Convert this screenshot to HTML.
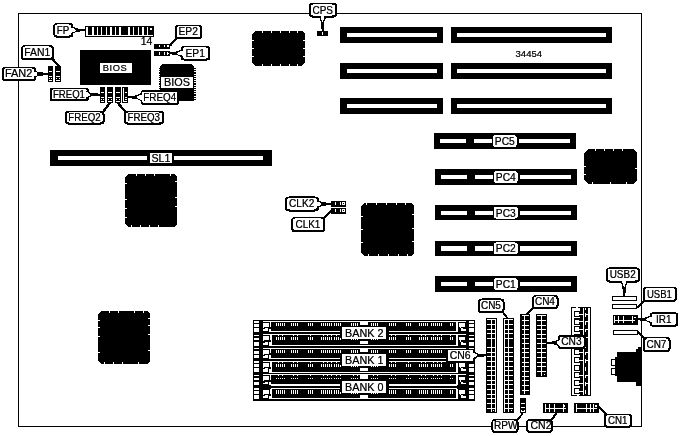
<!DOCTYPE html>
<html><head><meta charset="utf-8"><title>34454 motherboard layout</title>
<style>
html,body{margin:0;padding:0;background:#fff;}
svg{display:block;font-family:"Liberation Sans",sans-serif;fill:#000;}

svg rect,svg line,svg polygon{shape-rendering:crispEdges;}
svg .aa{shape-rendering:geometricPrecision;}
</style></head><body>
<svg width="681" height="436" viewBox="0 0 681 436">
<defs><filter id="bw" x="0" y="0" width="681" height="436" filterUnits="userSpaceOnUse" color-interpolation-filters="sRGB"><feComponentTransfer><feFuncR type="discrete" tableValues="0 1"/><feFuncG type="discrete" tableValues="0 1"/><feFuncB type="discrete" tableValues="0 1"/></feComponentTransfer></filter><filter id="tx" x="0" y="0" width="681" height="436" filterUnits="userSpaceOnUse" color-interpolation-filters="sRGB"><feComponentTransfer><feFuncA type="gamma" amplitude="1" exponent="0.6" offset="0"/></feComponentTransfer></filter></defs>
<g filter="url(#bw)">
<rect x="0" y="0" width="681" height="436" fill="#fff"/>
<rect x="18.5" y="13.5" width="623" height="413" fill="none" stroke="#000" stroke-width="1"/>
<rect x="85" y="26" width="69" height="11" fill="#000" />
<rect x="86" y="27" width="67" height="9" fill="#fff" />
<rect x="88" y="27" width="4.3" height="7.6" fill="#000" />
<rect x="93.5" y="27" width="3.5" height="7.6" fill="#000" />
<rect x="98.2" y="27" width="3.1" height="7.6" fill="#000" />
<rect x="102.4" y="27" width="3.5" height="7.6" fill="#000" />
<rect x="107" y="27" width="3.3" height="7.6" fill="#000" />
<rect x="111.5" y="27" width="3.3" height="7.6" fill="#000" />
<rect x="115.9" y="27" width="3.5" height="7.6" fill="#000" />
<rect x="120.9" y="27" width="7.5" height="7.6" fill="#000" />
<rect x="130" y="27" width="3" height="7.6" fill="#000" />
<rect x="134.3" y="27" width="3.3" height="7.6" fill="#000" />
<rect x="138.8" y="27" width="3.2" height="7.6" fill="#000" />
<rect x="143.5" y="27" width="3.5" height="7.6" fill="#000" />
<rect x="148.4" y="27" width="4.6" height="7.6" fill="#000" />
<rect x="150.2" y="28.2" width="1.5" height="1.6" fill="#fff" />
<rect x="154" y="43.5" width="16" height="5" fill="#000" />
<rect x="158.8" y="44.8" width="1" height="2.4" fill="#fff" />
<rect x="163.5" y="44.8" width="1.4" height="2.4" fill="#fff" />
<rect x="166.6" y="44.8" width="1" height="2.4" fill="#fff" />
<rect x="168.3" y="45.3" width="0.9" height="1.4" fill="#fff" />
<rect x="154" y="51" width="16" height="5" fill="#000" />
<rect x="158.8" y="52.3" width="1" height="2.4" fill="#fff" />
<rect x="163.5" y="52.3" width="1.4" height="2.4" fill="#fff" />
<rect x="166.6" y="52.3" width="1" height="2.4" fill="#fff" />
<rect x="168.3" y="52.8" width="0.9" height="1.4" fill="#fff" />
<rect x="48" y="66" width="5" height="16" fill="#000" />
<rect x="49" y="71.2" width="3" height="1" fill="#fff" />
<rect x="49" y="76" width="3" height="1" fill="#fff" />
<rect x="49" y="77.9" width="3" height="0.8" fill="#fff" />
<rect x="49" y="80" width="3" height="1" fill="#fff" />
<rect x="50" y="77.9" width="1" height="0.8" fill="#000" />
<rect x="55" y="66" width="6" height="16" fill="#000" />
<rect x="56" y="71.2" width="4" height="1" fill="#fff" />
<rect x="56" y="76" width="4" height="1" fill="#fff" />
<rect x="56" y="77.9" width="4" height="0.8" fill="#fff" />
<rect x="56" y="80" width="4" height="1" fill="#fff" />
<rect x="57" y="77.9" width="2" height="0.8" fill="#000" />
<rect x="80" y="50" width="71" height="35" fill="#000" />
<rect x="100" y="62.5" width="32" height="10.2" fill="#fff" />
<polygon points="162,64 192,64 194.2,67 194.2,101 160,101 160,67" fill="#000" stroke="none" stroke-width="1" />
<rect x="194" y="68" width="2" height="1.1" fill="#000" />
<rect x="158.9" y="68" width="1.1" height="1.1" fill="#000" />
<rect x="194" y="70.2" width="2" height="1.1" fill="#000" />
<rect x="158.9" y="70.2" width="1.1" height="1.1" fill="#000" />
<rect x="194" y="72.4" width="2" height="1.1" fill="#000" />
<rect x="158.9" y="72.4" width="1.1" height="1.1" fill="#000" />
<rect x="194" y="74.6" width="2" height="1.1" fill="#000" />
<rect x="158.9" y="74.6" width="1.1" height="1.1" fill="#000" />
<rect x="194" y="76.8" width="2" height="1.1" fill="#000" />
<rect x="158.9" y="76.8" width="1.1" height="1.1" fill="#000" />
<rect x="194" y="79" width="2" height="1.1" fill="#000" />
<rect x="158.9" y="79" width="1.1" height="1.1" fill="#000" />
<rect x="194" y="81.2" width="2" height="1.1" fill="#000" />
<rect x="158.9" y="81.2" width="1.1" height="1.1" fill="#000" />
<rect x="194" y="83.4" width="2" height="1.1" fill="#000" />
<rect x="158.9" y="83.4" width="1.1" height="1.1" fill="#000" />
<rect x="194" y="85.6" width="2" height="1.1" fill="#000" />
<rect x="158.9" y="85.6" width="1.1" height="1.1" fill="#000" />
<rect x="194" y="87.8" width="2" height="1.1" fill="#000" />
<rect x="158.9" y="87.8" width="1.1" height="1.1" fill="#000" />
<rect x="194" y="90" width="2" height="1.1" fill="#000" />
<rect x="158.9" y="90" width="1.1" height="1.1" fill="#000" />
<rect x="194" y="92.2" width="2" height="1.1" fill="#000" />
<rect x="158.9" y="92.2" width="1.1" height="1.1" fill="#000" />
<rect x="194" y="94.4" width="2" height="1.1" fill="#000" />
<rect x="158.9" y="94.4" width="1.1" height="1.1" fill="#000" />
<rect x="194" y="96.6" width="2" height="1.1" fill="#000" />
<rect x="158.9" y="96.6" width="1.1" height="1.1" fill="#000" />
<rect x="194" y="98.8" width="2" height="1.1" fill="#000" />
<rect x="158.9" y="98.8" width="1.1" height="1.1" fill="#000" />
<rect x="161" y="77" width="32" height="10.6" fill="#fff" />
<rect x="100" y="87" width="5" height="16" fill="#000" />
<rect x="101" y="92" width="3" height="1" fill="#fff" />
<rect x="101" y="96.8" width="3" height="1" fill="#fff" />
<rect x="101" y="98.8" width="3" height="1.1" fill="#fff" />
<rect x="102.2" y="98.8" width="0.6" height="1.1" fill="#000" />
<rect x="101" y="101" width="3" height="1" fill="#fff" />
<rect x="107" y="87" width="5.7" height="16" fill="#000" />
<rect x="108" y="92" width="3.7" height="1" fill="#fff" />
<rect x="108" y="96.8" width="3.7" height="1" fill="#fff" />
<rect x="108" y="98.8" width="3.7" height="1.1" fill="#fff" />
<rect x="109.2" y="98.8" width="1.3" height="1.1" fill="#000" />
<rect x="108" y="101" width="3.7" height="1" fill="#fff" />
<rect x="115" y="87" width="5.8" height="16" fill="#000" />
<rect x="116" y="92" width="3.8" height="1" fill="#fff" />
<rect x="116" y="96.8" width="3.8" height="1" fill="#fff" />
<rect x="116" y="98.8" width="3.8" height="1.1" fill="#fff" />
<rect x="117.2" y="98.8" width="1.4" height="1.1" fill="#000" />
<rect x="116" y="101" width="3.8" height="1" fill="#fff" />
<rect x="122.2" y="87" width="5.8" height="16" fill="#000" />
<rect x="123.2" y="88" width="1" height="13.8" fill="#fff" />
<rect x="123.2" y="101" width="3.8" height="1" fill="#fff" />
<rect x="125.2" y="92" width="1.8" height="1" fill="#fff" />
<rect x="125.2" y="96.8" width="1.8" height="1" fill="#fff" />
<rect x="125.4" y="99" width="1.2" height="1" fill="#fff" />
<rect x="317" y="31" width="11" height="4.7" fill="#000" />
<rect x="321.6" y="32.3" width="1" height="2.2" fill="#fff" />
<polygon points="255,31 302,31 305,34 305,62.5 302,65.5 255,65.5 252,62.5 252,34" fill="#000" stroke="none" stroke-width="1" />
<rect x="262" y="31" width="1" height="2" fill="#fff" />
<rect x="271" y="31" width="1" height="2" fill="#fff" />
<rect x="280" y="31" width="1" height="2" fill="#fff" />
<rect x="289" y="31" width="1" height="2" fill="#fff" />
<rect x="297" y="31" width="1" height="2" fill="#fff" />
<rect x="262" y="63.5" width="1" height="2" fill="#fff" />
<rect x="271" y="63.5" width="1" height="2" fill="#fff" />
<rect x="280" y="63.5" width="1" height="2" fill="#fff" />
<rect x="289" y="63.5" width="1" height="2" fill="#fff" />
<rect x="297" y="63.5" width="1" height="2" fill="#fff" />
<rect x="252" y="40" width="2" height="1" fill="#fff" />
<rect x="252" y="48" width="2" height="1" fill="#fff" />
<rect x="252" y="56" width="2" height="1" fill="#fff" />
<rect x="303" y="40" width="2" height="1" fill="#fff" />
<rect x="303" y="48" width="2" height="1" fill="#fff" />
<rect x="303" y="56" width="2" height="1" fill="#fff" />
<polygon points="128,174 174,174 177,177 177,224 174,227 128,227 125,224 125,177" fill="#000" stroke="none" stroke-width="1" />
<rect x="136" y="174" width="1" height="2" fill="#fff" />
<rect x="145" y="174" width="1" height="2" fill="#fff" />
<rect x="154" y="174" width="1" height="2" fill="#fff" />
<rect x="170" y="174" width="1" height="2" fill="#fff" />
<rect x="131" y="225" width="1" height="2" fill="#fff" />
<rect x="140" y="225" width="1" height="2" fill="#fff" />
<rect x="149" y="225" width="1" height="2" fill="#fff" />
<rect x="158" y="225" width="1" height="2" fill="#fff" />
<rect x="125" y="183" width="2" height="1" fill="#fff" />
<rect x="125" y="199" width="2" height="1" fill="#fff" />
<rect x="125" y="208" width="2" height="1" fill="#fff" />
<rect x="125" y="217" width="2" height="1" fill="#fff" />
<rect x="175" y="181" width="2" height="1" fill="#fff" />
<rect x="175" y="197" width="2" height="1" fill="#fff" />
<rect x="175" y="206" width="2" height="1" fill="#fff" />
<polygon points="101,311 147,311 150,314 150,361 147,364 101,364 98,361 98,314" fill="#000" stroke="none" stroke-width="1" />
<rect x="109" y="311" width="1" height="2" fill="#fff" />
<rect x="118" y="311" width="1" height="2" fill="#fff" />
<rect x="134" y="311" width="1" height="2" fill="#fff" />
<rect x="143" y="311" width="1" height="2" fill="#fff" />
<rect x="104" y="362" width="1" height="2" fill="#fff" />
<rect x="113" y="362" width="1" height="2" fill="#fff" />
<rect x="122" y="362" width="1" height="2" fill="#fff" />
<rect x="138" y="362" width="1" height="2" fill="#fff" />
<rect x="98" y="320" width="2" height="1" fill="#fff" />
<rect x="98" y="327" width="2" height="1" fill="#fff" />
<rect x="98" y="336" width="2" height="1" fill="#fff" />
<rect x="98" y="352" width="2" height="1" fill="#fff" />
<rect x="148" y="318" width="2" height="1" fill="#fff" />
<rect x="148" y="325" width="2" height="1" fill="#fff" />
<rect x="148" y="334" width="2" height="1" fill="#fff" />
<rect x="148" y="350" width="2" height="1" fill="#fff" />
<polygon points="364,203 411,203 414,206 414,253 411,256 364,256 361,253 361,206" fill="#000" stroke="none" stroke-width="1" />
<rect x="366" y="203" width="1" height="2" fill="#fff" />
<rect x="376" y="203" width="1" height="2" fill="#fff" />
<rect x="386" y="203" width="1" height="2" fill="#fff" />
<rect x="396" y="203" width="1" height="2" fill="#fff" />
<rect x="405" y="203" width="1" height="2" fill="#fff" />
<rect x="368" y="254" width="1" height="2" fill="#fff" />
<rect x="378" y="254" width="1" height="2" fill="#fff" />
<rect x="388" y="254" width="1" height="2" fill="#fff" />
<rect x="398" y="254" width="1" height="2" fill="#fff" />
<rect x="407" y="254" width="1" height="2" fill="#fff" />
<rect x="361" y="216" width="2" height="1" fill="#fff" />
<rect x="361" y="229" width="2" height="1" fill="#fff" />
<rect x="361" y="242" width="2" height="1" fill="#fff" />
<rect x="412" y="214" width="2" height="1" fill="#fff" />
<rect x="412" y="228" width="2" height="1" fill="#fff" />
<rect x="412" y="241" width="2" height="1" fill="#fff" />
<polygon points="588,149 633,149 637,153 637,180 633,184 588,184 584,180 584,153" fill="#000" stroke="none" stroke-width="1" />
<rect x="595" y="149" width="1" height="2" fill="#fff" />
<rect x="604" y="149" width="1" height="2" fill="#fff" />
<rect x="613" y="149" width="1" height="2" fill="#fff" />
<rect x="622" y="149" width="1" height="2" fill="#fff" />
<rect x="592" y="182" width="1" height="2" fill="#fff" />
<rect x="610" y="182" width="1" height="2" fill="#fff" />
<rect x="626" y="182" width="1" height="2" fill="#fff" />
<rect x="584" y="166" width="2" height="1" fill="#fff" />
<rect x="584" y="174" width="2" height="1" fill="#fff" />
<rect x="635" y="168" width="2" height="1" fill="#fff" />
<rect x="340" y="27" width="103" height="16" fill="#000" />
<rect x="347" y="33" width="90" height="4.4" fill="#fff" />
<rect x="451" y="27" width="161" height="16" fill="#000" />
<rect x="457" y="33" width="149" height="4.4" fill="#fff" />
<rect x="340" y="62.5" width="103" height="16" fill="#000" />
<rect x="347" y="68.5" width="90" height="4.4" fill="#fff" />
<rect x="451" y="62.5" width="161" height="16" fill="#000" />
<rect x="457" y="68.5" width="149" height="4.4" fill="#fff" />
<rect x="340" y="98" width="103" height="16" fill="#000" />
<rect x="347" y="104" width="90" height="4.4" fill="#fff" />
<rect x="451" y="98" width="161" height="16" fill="#000" />
<rect x="457" y="104" width="149" height="4.4" fill="#fff" />
<rect x="50" y="150" width="222" height="16" fill="#000" />
<rect x="58" y="156" width="89" height="4" fill="#fff" />
<rect x="174" y="156" width="89" height="4" fill="#fff" />
<rect x="150" y="153" width="22" height="10" fill="#fff" />
<rect x="434" y="133" width="142" height="16" fill="#000" />
<rect x="440" y="139" width="26" height="4.3" fill="#fff" />
<rect x="474" y="139" width="18" height="4.3" fill="#fff" />
<rect x="518.5" y="139" width="51.5" height="4.3" fill="#fff" />
<rect x="493" y="135.15" width="23.6" height="11.8" rx="2" fill="#fff" class="aa"/>
<rect x="435" y="169" width="142" height="16" fill="#000" />
<rect x="441" y="175" width="26" height="4.3" fill="#fff" />
<rect x="475" y="175" width="18" height="4.3" fill="#fff" />
<rect x="519.5" y="175" width="51.5" height="4.3" fill="#fff" />
<rect x="494" y="171.15" width="23.6" height="11.8" rx="2" fill="#fff" class="aa"/>
<rect x="435" y="205" width="142" height="15" fill="#000" />
<rect x="441" y="210.6" width="26" height="4.4" fill="#fff" />
<rect x="475" y="210.6" width="18" height="4.4" fill="#fff" />
<rect x="519.5" y="210.6" width="51.5" height="4.4" fill="#fff" />
<rect x="494" y="206.8" width="23.6" height="11.8" rx="2" fill="#fff" class="aa"/>
<rect x="435" y="241" width="142" height="15" fill="#000" />
<rect x="441" y="246" width="26" height="5" fill="#fff" />
<rect x="475" y="246" width="18" height="5" fill="#fff" />
<rect x="519.5" y="246" width="51.5" height="5" fill="#fff" />
<rect x="494" y="242.5" width="23.6" height="11.8" rx="2" fill="#fff" class="aa"/>
<rect x="435" y="276" width="142" height="16" fill="#000" />
<rect x="441" y="282" width="26" height="4.3" fill="#fff" />
<rect x="475" y="282" width="18" height="4.3" fill="#fff" />
<rect x="519.5" y="282" width="51.5" height="4.3" fill="#fff" />
<rect x="494" y="278.15" width="23.6" height="11.8" rx="2" fill="#fff" class="aa"/>
<rect x="330.5" y="201" width="15.5" height="5.5" fill="#000" />
<rect x="334.6" y="202.3" width="1.4" height="2.9" fill="#fff" />
<rect x="340" y="202.3" width="1" height="2.9" fill="#fff" />
<rect x="342.2" y="202.3" width="2.4" height="2.9" fill="#fff" />
<rect x="343" y="203.2" width="0.8" height="1.1" fill="#000" />
<rect x="330.5" y="208" width="15.5" height="5.5" fill="#000" />
<rect x="334.6" y="209.3" width="1.4" height="2.9" fill="#fff" />
<rect x="340" y="209.3" width="1" height="2.9" fill="#fff" />
<rect x="342.2" y="209.3" width="2.4" height="2.9" fill="#fff" />
<rect x="343" y="210.2" width="0.8" height="1.1" fill="#000" />
<rect x="612" y="296" width="25" height="5" fill="#000" />
<rect x="613" y="297" width="23" height="3" fill="#fff" />
<rect x="612" y="304" width="25" height="5" fill="#000" />
<rect x="613" y="305" width="23" height="3" fill="#fff" />
<rect x="613" y="315" width="25" height="9.6" fill="#000" />
<rect x="614.3" y="316.2" width="1" height="7.2" fill="#fff" />
<rect x="618" y="316.2" width="1" height="7.2" fill="#fff" />
<rect x="623.3" y="316.2" width="1" height="7.2" fill="#fff" />
<rect x="632.2" y="316.2" width="1" height="7.2" fill="#fff" />
<rect x="614.3" y="319.6" width="20.7" height="1" fill="#fff" />
<rect x="634.3" y="316.8" width="1.3" height="1.4" fill="#fff" />
<rect x="613" y="330.3" width="25" height="5.1" fill="#000" />
<rect x="614" y="331.3" width="23" height="3.1" fill="#fff" />
<rect x="617" y="352" width="19.5" height="30" fill="#000" />
<rect x="636" y="349" width="5" height="37" fill="#000" />
<rect x="638.3" y="347" width="2.7" height="2" fill="#000" />
<rect x="615.4" y="357" width="1.6" height="19.3" fill="#000" />
<rect x="611" y="358.5" width="5" height="7" fill="#000" />
<rect x="612" y="359.5" width="3" height="5" fill="#fff" />
<rect x="611" y="368" width="5" height="7" fill="#000" />
<rect x="612" y="369" width="3" height="5" fill="#fff" />
<rect x="486" y="318" width="11" height="95.3" fill="#000" />
<rect x="491" y="319" width="1" height="93.3" fill="#fff" />
<rect x="495" y="319" width="1" height="93.3" fill="#fff" />
<rect x="487" y="319" width="9" height="1" fill="#fff" />
<rect x="487" y="324" width="9" height="1" fill="#fff" />
<rect x="487" y="329" width="9" height="1" fill="#fff" />
<rect x="487" y="333" width="9" height="1" fill="#fff" />
<rect x="487" y="338" width="9" height="1" fill="#fff" />
<rect x="487" y="347" width="9" height="1" fill="#fff" />
<rect x="487" y="352" width="9" height="1" fill="#fff" />
<rect x="487" y="356" width="9" height="1" fill="#fff" />
<rect x="487" y="361" width="9" height="1" fill="#fff" />
<rect x="487" y="366" width="9" height="1" fill="#fff" />
<rect x="487" y="370" width="9" height="1" fill="#fff" />
<rect x="487" y="375" width="9" height="1" fill="#fff" />
<rect x="487" y="380" width="9" height="1" fill="#fff" />
<rect x="487" y="384" width="9" height="1" fill="#fff" />
<rect x="487" y="389" width="9" height="1" fill="#fff" />
<rect x="487" y="394" width="9" height="1" fill="#fff" />
<rect x="487" y="398" width="9" height="1" fill="#fff" />
<rect x="487" y="403" width="9" height="1" fill="#fff" />
<rect x="487" y="408" width="9" height="1" fill="#fff" />
<rect x="503.3" y="318" width="10.3" height="95.3" fill="#000" />
<rect x="504" y="319" width="1" height="93.3" fill="#fff" />
<rect x="508" y="319" width="1" height="93.3" fill="#fff" />
<rect x="504" y="319" width="9" height="1" fill="#fff" />
<rect x="504" y="324" width="9" height="1" fill="#fff" />
<rect x="504" y="329" width="9" height="1" fill="#fff" />
<rect x="504" y="333" width="9" height="1" fill="#fff" />
<rect x="504" y="338" width="9" height="1" fill="#fff" />
<rect x="504" y="347" width="9" height="1" fill="#fff" />
<rect x="504" y="352" width="9" height="1" fill="#fff" />
<rect x="504" y="356" width="9" height="1" fill="#fff" />
<rect x="504" y="361" width="9" height="1" fill="#fff" />
<rect x="504" y="366" width="9" height="1" fill="#fff" />
<rect x="504" y="370" width="9" height="1" fill="#fff" />
<rect x="504" y="375" width="9" height="1" fill="#fff" />
<rect x="504" y="380" width="9" height="1" fill="#fff" />
<rect x="504" y="384" width="9" height="1" fill="#fff" />
<rect x="504" y="389" width="9" height="1" fill="#fff" />
<rect x="504" y="394" width="9" height="1" fill="#fff" />
<rect x="504" y="398" width="9" height="1" fill="#fff" />
<rect x="504" y="403" width="9" height="1" fill="#fff" />
<rect x="504" y="408" width="9" height="1" fill="#fff" />
<rect x="520.4" y="314" width="9.6" height="80.5" fill="#000" />
<rect x="524" y="315" width="1" height="78.5" fill="#fff" />
<rect x="522" y="315" width="7" height="1" fill="#fff" />
<rect x="522" y="320" width="7" height="1" fill="#fff" />
<rect x="522" y="325" width="7" height="1" fill="#fff" />
<rect x="522" y="329" width="7" height="1" fill="#fff" />
<rect x="522" y="334" width="7" height="1" fill="#fff" />
<rect x="522" y="338" width="7" height="1" fill="#fff" />
<rect x="522" y="343" width="7" height="1" fill="#fff" />
<rect x="522" y="348" width="7" height="1" fill="#fff" />
<rect x="522" y="352" width="7" height="1" fill="#fff" />
<rect x="522" y="357" width="7" height="1" fill="#fff" />
<rect x="522" y="362" width="7" height="1" fill="#fff" />
<rect x="522" y="366" width="7" height="1" fill="#fff" />
<rect x="522" y="371" width="7" height="1" fill="#fff" />
<rect x="522" y="376" width="7" height="1" fill="#fff" />
<rect x="522" y="380" width="7" height="1" fill="#fff" />
<rect x="522" y="385" width="7" height="1" fill="#fff" />
<rect x="522" y="390" width="7" height="1" fill="#fff" />
<rect x="536.2" y="314" width="11" height="62.6" fill="#000" />
<rect x="541" y="315" width="1" height="60.6" fill="#fff" />
<rect x="537" y="315" width="9" height="1" fill="#fff" />
<rect x="537" y="320" width="9" height="1" fill="#fff" />
<rect x="537" y="325" width="9" height="1" fill="#fff" />
<rect x="537" y="329" width="9" height="1" fill="#fff" />
<rect x="537" y="334" width="9" height="1" fill="#fff" />
<rect x="537" y="338" width="9" height="1" fill="#fff" />
<rect x="537" y="343" width="9" height="1" fill="#fff" />
<rect x="537" y="348" width="9" height="1" fill="#fff" />
<rect x="537" y="352" width="9" height="1" fill="#fff" />
<rect x="537" y="357" width="9" height="1" fill="#fff" />
<rect x="537" y="362" width="9" height="1" fill="#fff" />
<rect x="537" y="366" width="9" height="1" fill="#fff" />
<rect x="537" y="371" width="9" height="1" fill="#fff" />
<rect x="492.6" y="409.4" width="2.6" height="2.5" fill="#000" />
<rect x="493.4" y="410.3" width="1" height="0.9" fill="#fff" />
<rect x="510.1" y="409.4" width="2.6" height="2.5" fill="#000" />
<rect x="510.9" y="410.3" width="1" height="0.9" fill="#fff" />
<rect x="525.9" y="390.6" width="2.6" height="2.5" fill="#000" />
<rect x="526.7" y="391.5" width="1" height="0.9" fill="#fff" />
<rect x="543.2" y="372.7" width="2.6" height="2.5" fill="#000" />
<rect x="544" y="373.6" width="1" height="0.9" fill="#fff" />
<rect x="520.3" y="398" width="5.7" height="15.3" fill="#000" />
<rect x="521.3" y="403" width="3.7" height="1" fill="#fff" />
<rect x="521.3" y="407.3" width="3.7" height="1" fill="#fff" />
<rect x="521.3" y="409.5" width="3.7" height="2.3" fill="#fff" />
<rect x="522.3" y="410.2" width="1.7" height="0.8" fill="#000" />
<rect x="543" y="403.2" width="25" height="10.2" fill="#000" />
<rect x="544.6" y="404.4" width="1" height="7.8" fill="#fff" />
<rect x="548.7" y="404.4" width="1" height="7.8" fill="#fff" />
<rect x="554" y="404.4" width="1" height="7.8" fill="#fff" />
<rect x="562.5" y="404.4" width="1" height="7.8" fill="#fff" />
<rect x="544.6" y="408" width="21.4" height="1" fill="#fff" />
<rect x="563.6" y="405" width="1.8" height="1.8" fill="#fff" />
<rect x="574" y="403.2" width="25.3" height="10.2" fill="#000" />
<rect x="576" y="404.4" width="1" height="7.8" fill="#fff" />
<rect x="586.2" y="404.4" width="1" height="7.8" fill="#fff" />
<rect x="589.8" y="404.4" width="1" height="7.8" fill="#fff" />
<rect x="593" y="404.4" width="1" height="7.8" fill="#fff" />
<rect x="576" y="408" width="21.3" height="1" fill="#fff" />
<rect x="594.9" y="405" width="1.8" height="1.8" fill="#fff" />
<rect x="571" y="307" width="20" height="89" fill="#000" />
<rect x="572" y="308" width="18" height="87" fill="#fff" />
<rect x="580" y="308" width="3.1" height="87" fill="#000" />
<rect x="583.9" y="308" width="4.1" height="87" fill="#000" />
<rect x="574" y="310.8" width="6" height="6.2" fill="#000" />
<rect x="575.2" y="312" width="3.8" height="3.9" fill="#fff" />
<rect x="579" y="313.8" width="4.1" height="0.9" fill="#fff" />
<rect x="585" y="313.3" width="1" height="3.6" fill="#fff" />
<rect x="586" y="313.8" width="2" height="0.8" fill="#fff" />
<rect x="574" y="318.48" width="6" height="6.2" fill="#000" />
<rect x="575.2" y="319.68" width="3.8" height="3.9" fill="#fff" />
<rect x="579" y="321.48" width="4.1" height="0.9" fill="#fff" />
<rect x="585" y="320.98" width="1" height="3.6" fill="#fff" />
<rect x="586" y="321.48" width="2" height="0.8" fill="#fff" />
<rect x="574" y="326.16" width="6" height="6.2" fill="#000" />
<rect x="575.2" y="327.36" width="3.8" height="3.9" fill="#fff" />
<rect x="579" y="329.16" width="4.1" height="0.9" fill="#fff" />
<rect x="585" y="328.66" width="1" height="3.6" fill="#fff" />
<rect x="586" y="329.16" width="2" height="0.8" fill="#fff" />
<rect x="574" y="333.84" width="6" height="6.2" fill="#000" />
<rect x="575.2" y="335.04" width="3.8" height="3.9" fill="#fff" />
<rect x="579" y="336.84" width="4.1" height="0.9" fill="#fff" />
<rect x="585" y="336.34" width="1" height="3.6" fill="#fff" />
<rect x="586" y="336.84" width="2" height="0.8" fill="#fff" />
<rect x="574" y="341.52" width="6" height="6.2" fill="#000" />
<rect x="575.2" y="342.72" width="3.8" height="3.9" fill="#fff" />
<rect x="579" y="344.52" width="4.1" height="0.9" fill="#fff" />
<rect x="585" y="344.02" width="1" height="3.6" fill="#fff" />
<rect x="586" y="344.52" width="2" height="0.8" fill="#fff" />
<rect x="574" y="349.2" width="6" height="6.2" fill="#000" />
<rect x="575.2" y="350.4" width="3.8" height="3.9" fill="#fff" />
<rect x="579" y="352.2" width="4.1" height="0.9" fill="#fff" />
<rect x="585" y="351.7" width="1" height="3.6" fill="#fff" />
<rect x="586" y="352.2" width="2" height="0.8" fill="#fff" />
<rect x="574" y="356.88" width="6" height="6.2" fill="#000" />
<rect x="575.2" y="358.08" width="3.8" height="3.9" fill="#fff" />
<rect x="579" y="359.88" width="4.1" height="0.9" fill="#fff" />
<rect x="585" y="359.38" width="1" height="3.6" fill="#fff" />
<rect x="586" y="359.88" width="2" height="0.8" fill="#fff" />
<rect x="574" y="364.56" width="6" height="6.2" fill="#000" />
<rect x="575.2" y="365.76" width="3.8" height="3.9" fill="#fff" />
<rect x="579" y="367.56" width="4.1" height="0.9" fill="#fff" />
<rect x="585" y="367.06" width="1" height="3.6" fill="#fff" />
<rect x="586" y="367.56" width="2" height="0.8" fill="#fff" />
<rect x="574" y="372.24" width="6" height="6.2" fill="#000" />
<rect x="575.2" y="373.44" width="3.8" height="3.9" fill="#fff" />
<rect x="579" y="375.24" width="4.1" height="0.9" fill="#fff" />
<rect x="585" y="374.74" width="1" height="3.6" fill="#fff" />
<rect x="586" y="375.24" width="2" height="0.8" fill="#fff" />
<rect x="574" y="379.92" width="6" height="6.2" fill="#000" />
<rect x="575.2" y="381.12" width="3.8" height="3.9" fill="#fff" />
<rect x="579" y="382.92" width="4.1" height="0.9" fill="#fff" />
<rect x="585" y="382.42" width="1" height="3.6" fill="#fff" />
<rect x="586" y="382.92" width="2" height="0.8" fill="#fff" />
<rect x="574" y="387.6" width="6" height="6.2" fill="#000" />
<rect x="575.2" y="388.8" width="3.8" height="3.9" fill="#fff" />
<rect x="579" y="390.6" width="4.1" height="0.9" fill="#fff" />
<rect x="585" y="390.1" width="1" height="3.6" fill="#fff" />
<rect x="586" y="390.6" width="2" height="0.8" fill="#fff" />
<rect x="576" y="307" width="1.7" height="1" fill="#fff" />
<rect x="585" y="308" width="1" height="1.5" fill="#fff" />
<rect x="577" y="395" width="2" height="1" fill="#fff" />
<rect x="253" y="320" width="222" height="26.6" fill="#000" />
<rect x="262.8" y="320.9" width="203.5" height="1.1" fill="#fff" />
<rect x="271" y="331" width="186" height="1.2" fill="#fff" />
<rect x="254" y="321.1" width="5.1" height="1.65" fill="#fff" />
<rect x="254" y="324.2" width="5.1" height="2.7" fill="#fff" />
<rect x="254" y="328.1" width="5.1" height="3.6" fill="#fff" />
<rect x="262.8" y="322" width="8.5" height="10.2" fill="#000" />
<rect x="263.2" y="323" width="5.8" height="3.9" fill="#fff" />
<rect x="263.2" y="326.9" width="1.1" height="1" fill="#fff" />
<rect x="265" y="328.1" width="3" height="1.1" fill="#fff" />
<rect x="263" y="329.2" width="5" height="1.8" fill="#fff" />
<rect x="270.25" y="322" width="1.05" height="4.7" fill="#fff" />
<rect x="269" y="328.7" width="2.9" height="3.3" fill="#fff" />
<rect x="469" y="321.1" width="5.1" height="1.65" fill="#fff" />
<rect x="469" y="324.2" width="5.1" height="2.7" fill="#fff" />
<rect x="469" y="328.1" width="5.1" height="3.6" fill="#fff" />
<rect x="455.9" y="322" width="10.4" height="10.2" fill="#000" />
<rect x="456" y="321.9" width="2.2" height="10.1" fill="#fff" />
<rect x="459.3" y="323.2" width="5.5" height="3.5" fill="#fff" />
<rect x="459.9" y="326.7" width="1.1" height="1.6" fill="#fff" />
<rect x="460.9" y="328.2" width="2.1" height="1.1" fill="#fff" />
<rect x="460.9" y="329.2" width="5.1" height="1.7" fill="#fff" />
<rect x="271" y="322" width="185.3" height="9" fill="#000" />
<rect x="276" y="323.1" width="0.95" height="2.9" fill="#fff" />
<rect x="277.98" y="323.1" width="0.95" height="2.9" fill="#fff" />
<rect x="279.96" y="323.1" width="0.95" height="2.9" fill="#fff" />
<rect x="281.94" y="323.1" width="0.95" height="2.9" fill="#fff" />
<rect x="283.92" y="323.1" width="0.95" height="2.9" fill="#fff" />
<rect x="291.3" y="323.1" width="0.95" height="2.9" fill="#fff" />
<rect x="293.28" y="323.1" width="0.95" height="2.9" fill="#fff" />
<rect x="295.26" y="323.1" width="0.95" height="2.9" fill="#fff" />
<rect x="297.24" y="323.1" width="0.95" height="2.9" fill="#fff" />
<rect x="308.2" y="323.1" width="0.95" height="2.9" fill="#fff" />
<rect x="310.18" y="323.1" width="0.95" height="2.9" fill="#fff" />
<rect x="312.16" y="323.1" width="0.95" height="2.9" fill="#fff" />
<rect x="321" y="323.1" width="0.95" height="2.9" fill="#fff" />
<rect x="322.98" y="323.1" width="0.95" height="2.9" fill="#fff" />
<rect x="324.96" y="323.1" width="0.95" height="2.9" fill="#fff" />
<rect x="326.94" y="323.1" width="0.95" height="2.9" fill="#fff" />
<rect x="328.92" y="323.1" width="0.95" height="2.9" fill="#fff" />
<rect x="330.9" y="323.1" width="0.95" height="2.9" fill="#fff" />
<rect x="333.9" y="323.1" width="0.95" height="2.9" fill="#fff" />
<rect x="335.88" y="323.1" width="0.95" height="2.9" fill="#fff" />
<rect x="337.86" y="323.1" width="0.95" height="2.9" fill="#fff" />
<rect x="339.84" y="323.1" width="0.95" height="2.9" fill="#fff" />
<rect x="350.9" y="323.1" width="0.95" height="2.9" fill="#fff" />
<rect x="352.88" y="323.1" width="0.95" height="2.9" fill="#fff" />
<rect x="354.86" y="323.1" width="0.95" height="2.9" fill="#fff" />
<rect x="356.84" y="323.1" width="0.95" height="2.9" fill="#fff" />
<rect x="371" y="323.1" width="0.95" height="2.9" fill="#fff" />
<rect x="372.98" y="323.1" width="0.95" height="2.9" fill="#fff" />
<rect x="374.96" y="323.1" width="0.95" height="2.9" fill="#fff" />
<rect x="376.94" y="323.1" width="0.95" height="2.9" fill="#fff" />
<rect x="388.7" y="323.1" width="0.95" height="2.9" fill="#fff" />
<rect x="390.68" y="323.1" width="0.95" height="2.9" fill="#fff" />
<rect x="392.66" y="323.1" width="0.95" height="2.9" fill="#fff" />
<rect x="394.64" y="323.1" width="0.95" height="2.9" fill="#fff" />
<rect x="406" y="323.1" width="0.95" height="2.9" fill="#fff" />
<rect x="407.98" y="323.1" width="0.95" height="2.9" fill="#fff" />
<rect x="409.96" y="323.1" width="0.95" height="2.9" fill="#fff" />
<rect x="418.7" y="323.1" width="0.95" height="2.9" fill="#fff" />
<rect x="420.68" y="323.1" width="0.95" height="2.9" fill="#fff" />
<rect x="422.66" y="323.1" width="0.95" height="2.9" fill="#fff" />
<rect x="424.64" y="323.1" width="0.95" height="2.9" fill="#fff" />
<rect x="426.62" y="323.1" width="0.95" height="2.9" fill="#fff" />
<rect x="431.3" y="323.1" width="0.95" height="2.9" fill="#fff" />
<rect x="433.28" y="323.1" width="0.95" height="2.9" fill="#fff" />
<rect x="435.26" y="323.1" width="0.95" height="2.9" fill="#fff" />
<rect x="437.24" y="323.1" width="0.95" height="2.9" fill="#fff" />
<rect x="439.22" y="323.1" width="0.95" height="2.9" fill="#fff" />
<rect x="441.2" y="323.1" width="0.95" height="2.9" fill="#fff" />
<rect x="448.5" y="323.1" width="0.95" height="2.9" fill="#fff" />
<rect x="450.48" y="323.1" width="0.95" height="2.9" fill="#fff" />
<rect x="452.46" y="323.1" width="0.95" height="2.9" fill="#fff" />
<rect x="262.8" y="334.1" width="203.5" height="0.9" fill="#fff" />
<rect x="254" y="334.5" width="5.1" height="1.65" fill="#fff" />
<rect x="254" y="337.6" width="5.1" height="2.7" fill="#fff" />
<rect x="254" y="341.5" width="5.1" height="4" fill="#fff" />
<rect x="262.8" y="335.4" width="8.5" height="10.6" fill="#000" />
<rect x="263.2" y="336.4" width="5.8" height="3.9" fill="#fff" />
<rect x="263.2" y="340.3" width="1.1" height="1" fill="#fff" />
<rect x="265" y="341.5" width="3" height="1.1" fill="#fff" />
<rect x="263" y="342.6" width="5" height="2.2" fill="#fff" />
<rect x="270.25" y="335.4" width="1.05" height="4.7" fill="#fff" />
<rect x="269" y="342.1" width="2.9" height="3.7" fill="#fff" />
<rect x="469" y="334.5" width="5.1" height="1.65" fill="#fff" />
<rect x="469" y="337.6" width="5.1" height="2.7" fill="#fff" />
<rect x="469" y="341.5" width="5.1" height="4" fill="#fff" />
<rect x="455.9" y="335.4" width="10.4" height="10.6" fill="#000" />
<rect x="456" y="335.3" width="2.2" height="10.5" fill="#fff" />
<rect x="459.3" y="336.6" width="5.5" height="3.5" fill="#fff" />
<rect x="459.9" y="340.1" width="1.1" height="1.6" fill="#fff" />
<rect x="460.9" y="341.6" width="2.1" height="1.1" fill="#fff" />
<rect x="460.9" y="342.6" width="5.1" height="2.1" fill="#fff" />
<rect x="271" y="335" width="185.3" height="10" fill="#000" />
<rect x="271" y="345" width="186" height="0.9" fill="#fff" />
<rect x="271" y="335" width="0.9" height="10" fill="#fff" />
<rect x="253" y="332.3" width="222" height="1.1" fill="#000" />
<rect x="253" y="345.9" width="222" height="0.7" fill="#000" />
<rect x="276" y="337" width="0.95" height="3.2" fill="#fff" />
<rect x="277.98" y="337" width="0.95" height="3.2" fill="#fff" />
<rect x="277.98" y="335.1" width="0.95" height="0.9" fill="#fff" />
<rect x="279.96" y="337" width="0.95" height="3.2" fill="#fff" />
<rect x="281.94" y="337" width="0.95" height="3.2" fill="#fff" />
<rect x="281.94" y="335.1" width="0.95" height="0.9" fill="#fff" />
<rect x="283.92" y="337" width="0.95" height="3.2" fill="#fff" />
<rect x="291.3" y="337" width="0.95" height="3.2" fill="#fff" />
<rect x="293.28" y="337" width="0.95" height="3.2" fill="#fff" />
<rect x="293.28" y="335.1" width="0.95" height="0.9" fill="#fff" />
<rect x="295.26" y="337" width="0.95" height="3.2" fill="#fff" />
<rect x="297.24" y="337" width="0.95" height="3.2" fill="#fff" />
<rect x="297.24" y="335.1" width="0.95" height="0.9" fill="#fff" />
<rect x="308.2" y="337" width="0.95" height="3.2" fill="#fff" />
<rect x="310.18" y="337" width="0.95" height="3.2" fill="#fff" />
<rect x="310.18" y="335.1" width="0.95" height="0.9" fill="#fff" />
<rect x="312.16" y="337" width="0.95" height="3.2" fill="#fff" />
<rect x="321" y="337" width="0.95" height="3.2" fill="#fff" />
<rect x="322.98" y="337" width="0.95" height="3.2" fill="#fff" />
<rect x="322.98" y="335.1" width="0.95" height="0.9" fill="#fff" />
<rect x="324.96" y="337" width="0.95" height="3.2" fill="#fff" />
<rect x="326.94" y="337" width="0.95" height="3.2" fill="#fff" />
<rect x="326.94" y="335.1" width="0.95" height="0.9" fill="#fff" />
<rect x="328.92" y="337" width="0.95" height="3.2" fill="#fff" />
<rect x="330.9" y="337" width="0.95" height="3.2" fill="#fff" />
<rect x="330.9" y="335.1" width="0.95" height="0.9" fill="#fff" />
<rect x="333.9" y="337" width="0.95" height="3.2" fill="#fff" />
<rect x="335.88" y="337" width="0.95" height="3.2" fill="#fff" />
<rect x="335.88" y="335.1" width="0.95" height="0.9" fill="#fff" />
<rect x="337.86" y="337" width="0.95" height="3.2" fill="#fff" />
<rect x="339.84" y="337" width="0.95" height="3.2" fill="#fff" />
<rect x="339.84" y="335.1" width="0.95" height="0.9" fill="#fff" />
<rect x="350.9" y="337" width="0.95" height="3.2" fill="#fff" />
<rect x="352.88" y="337" width="0.95" height="3.2" fill="#fff" />
<rect x="352.88" y="335.1" width="0.95" height="0.9" fill="#fff" />
<rect x="354.86" y="337" width="0.95" height="3.2" fill="#fff" />
<rect x="356.84" y="337" width="0.95" height="3.2" fill="#fff" />
<rect x="356.84" y="335.1" width="0.95" height="0.9" fill="#fff" />
<rect x="371" y="337" width="0.95" height="3.2" fill="#fff" />
<rect x="372.98" y="337" width="0.95" height="3.2" fill="#fff" />
<rect x="372.98" y="335.1" width="0.95" height="0.9" fill="#fff" />
<rect x="374.96" y="337" width="0.95" height="3.2" fill="#fff" />
<rect x="376.94" y="337" width="0.95" height="3.2" fill="#fff" />
<rect x="376.94" y="335.1" width="0.95" height="0.9" fill="#fff" />
<rect x="388.7" y="337" width="0.95" height="3.2" fill="#fff" />
<rect x="390.68" y="337" width="0.95" height="3.2" fill="#fff" />
<rect x="390.68" y="335.1" width="0.95" height="0.9" fill="#fff" />
<rect x="392.66" y="337" width="0.95" height="3.2" fill="#fff" />
<rect x="394.64" y="337" width="0.95" height="3.2" fill="#fff" />
<rect x="394.64" y="335.1" width="0.95" height="0.9" fill="#fff" />
<rect x="406" y="337" width="0.95" height="3.2" fill="#fff" />
<rect x="407.98" y="337" width="0.95" height="3.2" fill="#fff" />
<rect x="407.98" y="335.1" width="0.95" height="0.9" fill="#fff" />
<rect x="409.96" y="337" width="0.95" height="3.2" fill="#fff" />
<rect x="418.7" y="337" width="0.95" height="3.2" fill="#fff" />
<rect x="420.68" y="337" width="0.95" height="3.2" fill="#fff" />
<rect x="420.68" y="335.1" width="0.95" height="0.9" fill="#fff" />
<rect x="422.66" y="337" width="0.95" height="3.2" fill="#fff" />
<rect x="424.64" y="337" width="0.95" height="3.2" fill="#fff" />
<rect x="424.64" y="335.1" width="0.95" height="0.9" fill="#fff" />
<rect x="426.62" y="337" width="0.95" height="3.2" fill="#fff" />
<rect x="431.3" y="337" width="0.95" height="3.2" fill="#fff" />
<rect x="433.28" y="337" width="0.95" height="3.2" fill="#fff" />
<rect x="433.28" y="335.1" width="0.95" height="0.9" fill="#fff" />
<rect x="435.26" y="337" width="0.95" height="3.2" fill="#fff" />
<rect x="437.24" y="337" width="0.95" height="3.2" fill="#fff" />
<rect x="437.24" y="335.1" width="0.95" height="0.9" fill="#fff" />
<rect x="439.22" y="337" width="0.95" height="3.2" fill="#fff" />
<rect x="441.2" y="337" width="0.95" height="3.2" fill="#fff" />
<rect x="441.2" y="335.1" width="0.95" height="0.9" fill="#fff" />
<rect x="448.5" y="337" width="0.95" height="3.2" fill="#fff" />
<rect x="450.48" y="337" width="0.95" height="3.2" fill="#fff" />
<rect x="450.48" y="335.1" width="0.95" height="0.9" fill="#fff" />
<rect x="452.46" y="337" width="0.95" height="3.2" fill="#fff" />
<rect x="253" y="346.7" width="222" height="26.6" fill="#000" />
<rect x="262.8" y="347.6" width="203.5" height="1.1" fill="#fff" />
<rect x="271" y="357.7" width="186" height="1.2" fill="#fff" />
<rect x="254" y="347.8" width="5.1" height="1.65" fill="#fff" />
<rect x="254" y="350.9" width="5.1" height="2.7" fill="#fff" />
<rect x="254" y="354.8" width="5.1" height="3.6" fill="#fff" />
<rect x="262.8" y="348.7" width="8.5" height="10.2" fill="#000" />
<rect x="263.2" y="349.7" width="5.8" height="3.9" fill="#fff" />
<rect x="263.2" y="353.6" width="1.1" height="1" fill="#fff" />
<rect x="265" y="354.8" width="3" height="1.1" fill="#fff" />
<rect x="263" y="355.9" width="5" height="1.8" fill="#fff" />
<rect x="270.25" y="348.7" width="1.05" height="4.7" fill="#fff" />
<rect x="269" y="355.4" width="2.9" height="3.3" fill="#fff" />
<rect x="469" y="347.8" width="5.1" height="1.65" fill="#fff" />
<rect x="469" y="350.9" width="5.1" height="2.7" fill="#fff" />
<rect x="469" y="354.8" width="5.1" height="3.6" fill="#fff" />
<rect x="455.9" y="348.7" width="10.4" height="10.2" fill="#000" />
<rect x="456" y="348.6" width="2.2" height="10.1" fill="#fff" />
<rect x="459.3" y="349.9" width="5.5" height="3.5" fill="#fff" />
<rect x="459.9" y="353.4" width="1.1" height="1.6" fill="#fff" />
<rect x="460.9" y="354.9" width="2.1" height="1.1" fill="#fff" />
<rect x="460.9" y="355.9" width="5.1" height="1.7" fill="#fff" />
<rect x="271" y="348.7" width="185.3" height="9" fill="#000" />
<rect x="276" y="349.8" width="0.95" height="2.9" fill="#fff" />
<rect x="277.98" y="349.8" width="0.95" height="2.9" fill="#fff" />
<rect x="279.96" y="349.8" width="0.95" height="2.9" fill="#fff" />
<rect x="281.94" y="349.8" width="0.95" height="2.9" fill="#fff" />
<rect x="283.92" y="349.8" width="0.95" height="2.9" fill="#fff" />
<rect x="291.3" y="349.8" width="0.95" height="2.9" fill="#fff" />
<rect x="293.28" y="349.8" width="0.95" height="2.9" fill="#fff" />
<rect x="295.26" y="349.8" width="0.95" height="2.9" fill="#fff" />
<rect x="297.24" y="349.8" width="0.95" height="2.9" fill="#fff" />
<rect x="308.2" y="349.8" width="0.95" height="2.9" fill="#fff" />
<rect x="310.18" y="349.8" width="0.95" height="2.9" fill="#fff" />
<rect x="312.16" y="349.8" width="0.95" height="2.9" fill="#fff" />
<rect x="321" y="349.8" width="0.95" height="2.9" fill="#fff" />
<rect x="322.98" y="349.8" width="0.95" height="2.9" fill="#fff" />
<rect x="324.96" y="349.8" width="0.95" height="2.9" fill="#fff" />
<rect x="326.94" y="349.8" width="0.95" height="2.9" fill="#fff" />
<rect x="328.92" y="349.8" width="0.95" height="2.9" fill="#fff" />
<rect x="330.9" y="349.8" width="0.95" height="2.9" fill="#fff" />
<rect x="333.9" y="349.8" width="0.95" height="2.9" fill="#fff" />
<rect x="335.88" y="349.8" width="0.95" height="2.9" fill="#fff" />
<rect x="337.86" y="349.8" width="0.95" height="2.9" fill="#fff" />
<rect x="339.84" y="349.8" width="0.95" height="2.9" fill="#fff" />
<rect x="350.9" y="349.8" width="0.95" height="2.9" fill="#fff" />
<rect x="352.88" y="349.8" width="0.95" height="2.9" fill="#fff" />
<rect x="354.86" y="349.8" width="0.95" height="2.9" fill="#fff" />
<rect x="356.84" y="349.8" width="0.95" height="2.9" fill="#fff" />
<rect x="371" y="349.8" width="0.95" height="2.9" fill="#fff" />
<rect x="372.98" y="349.8" width="0.95" height="2.9" fill="#fff" />
<rect x="374.96" y="349.8" width="0.95" height="2.9" fill="#fff" />
<rect x="376.94" y="349.8" width="0.95" height="2.9" fill="#fff" />
<rect x="388.7" y="349.8" width="0.95" height="2.9" fill="#fff" />
<rect x="390.68" y="349.8" width="0.95" height="2.9" fill="#fff" />
<rect x="392.66" y="349.8" width="0.95" height="2.9" fill="#fff" />
<rect x="394.64" y="349.8" width="0.95" height="2.9" fill="#fff" />
<rect x="406" y="349.8" width="0.95" height="2.9" fill="#fff" />
<rect x="407.98" y="349.8" width="0.95" height="2.9" fill="#fff" />
<rect x="409.96" y="349.8" width="0.95" height="2.9" fill="#fff" />
<rect x="418.7" y="349.8" width="0.95" height="2.9" fill="#fff" />
<rect x="420.68" y="349.8" width="0.95" height="2.9" fill="#fff" />
<rect x="422.66" y="349.8" width="0.95" height="2.9" fill="#fff" />
<rect x="424.64" y="349.8" width="0.95" height="2.9" fill="#fff" />
<rect x="426.62" y="349.8" width="0.95" height="2.9" fill="#fff" />
<rect x="431.3" y="349.8" width="0.95" height="2.9" fill="#fff" />
<rect x="433.28" y="349.8" width="0.95" height="2.9" fill="#fff" />
<rect x="435.26" y="349.8" width="0.95" height="2.9" fill="#fff" />
<rect x="437.24" y="349.8" width="0.95" height="2.9" fill="#fff" />
<rect x="439.22" y="349.8" width="0.95" height="2.9" fill="#fff" />
<rect x="441.2" y="349.8" width="0.95" height="2.9" fill="#fff" />
<rect x="448.5" y="349.8" width="0.95" height="2.9" fill="#fff" />
<rect x="450.48" y="349.8" width="0.95" height="2.9" fill="#fff" />
<rect x="452.46" y="349.8" width="0.95" height="2.9" fill="#fff" />
<rect x="262.8" y="360.8" width="203.5" height="0.9" fill="#fff" />
<rect x="254" y="361.2" width="5.1" height="1.65" fill="#fff" />
<rect x="254" y="364.3" width="5.1" height="2.7" fill="#fff" />
<rect x="254" y="368.2" width="5.1" height="4" fill="#fff" />
<rect x="262.8" y="362.1" width="8.5" height="10.6" fill="#000" />
<rect x="263.2" y="363.1" width="5.8" height="3.9" fill="#fff" />
<rect x="263.2" y="367" width="1.1" height="1" fill="#fff" />
<rect x="265" y="368.2" width="3" height="1.1" fill="#fff" />
<rect x="263" y="369.3" width="5" height="2.2" fill="#fff" />
<rect x="270.25" y="362.1" width="1.05" height="4.7" fill="#fff" />
<rect x="269" y="368.8" width="2.9" height="3.7" fill="#fff" />
<rect x="469" y="361.2" width="5.1" height="1.65" fill="#fff" />
<rect x="469" y="364.3" width="5.1" height="2.7" fill="#fff" />
<rect x="469" y="368.2" width="5.1" height="4" fill="#fff" />
<rect x="455.9" y="362.1" width="10.4" height="10.6" fill="#000" />
<rect x="456" y="362" width="2.2" height="10.5" fill="#fff" />
<rect x="459.3" y="363.3" width="5.5" height="3.5" fill="#fff" />
<rect x="459.9" y="366.8" width="1.1" height="1.6" fill="#fff" />
<rect x="460.9" y="368.3" width="2.1" height="1.1" fill="#fff" />
<rect x="460.9" y="369.3" width="5.1" height="2.1" fill="#fff" />
<rect x="271" y="361.7" width="185.3" height="10" fill="#000" />
<rect x="271" y="371.7" width="186" height="0.9" fill="#fff" />
<rect x="271" y="361.7" width="0.9" height="10" fill="#fff" />
<rect x="253" y="359" width="222" height="1.1" fill="#000" />
<rect x="253" y="372.6" width="222" height="0.7" fill="#000" />
<rect x="276" y="363.7" width="0.95" height="3.2" fill="#fff" />
<rect x="276" y="364.6" width="0.95" height="0.6" fill="#000" />
<rect x="277.98" y="363.7" width="0.95" height="3.2" fill="#fff" />
<rect x="277.98" y="364.6" width="0.95" height="0.6" fill="#000" />
<rect x="277.98" y="361.8" width="0.95" height="0.9" fill="#fff" />
<rect x="279.96" y="363.7" width="0.95" height="3.2" fill="#fff" />
<rect x="279.96" y="364.6" width="0.95" height="0.6" fill="#000" />
<rect x="281.94" y="363.7" width="0.95" height="3.2" fill="#fff" />
<rect x="281.94" y="364.6" width="0.95" height="0.6" fill="#000" />
<rect x="281.94" y="361.8" width="0.95" height="0.9" fill="#fff" />
<rect x="283.92" y="363.7" width="0.95" height="3.2" fill="#fff" />
<rect x="283.92" y="364.6" width="0.95" height="0.6" fill="#000" />
<rect x="291.3" y="363.7" width="0.95" height="3.2" fill="#fff" />
<rect x="291.3" y="364.6" width="0.95" height="0.6" fill="#000" />
<rect x="293.28" y="363.7" width="0.95" height="3.2" fill="#fff" />
<rect x="293.28" y="364.6" width="0.95" height="0.6" fill="#000" />
<rect x="293.28" y="361.8" width="0.95" height="0.9" fill="#fff" />
<rect x="295.26" y="363.7" width="0.95" height="3.2" fill="#fff" />
<rect x="295.26" y="364.6" width="0.95" height="0.6" fill="#000" />
<rect x="297.24" y="363.7" width="0.95" height="3.2" fill="#fff" />
<rect x="297.24" y="364.6" width="0.95" height="0.6" fill="#000" />
<rect x="297.24" y="361.8" width="0.95" height="0.9" fill="#fff" />
<rect x="308.2" y="363.7" width="0.95" height="3.2" fill="#fff" />
<rect x="308.2" y="364.6" width="0.95" height="0.6" fill="#000" />
<rect x="310.18" y="363.7" width="0.95" height="3.2" fill="#fff" />
<rect x="310.18" y="364.6" width="0.95" height="0.6" fill="#000" />
<rect x="310.18" y="361.8" width="0.95" height="0.9" fill="#fff" />
<rect x="312.16" y="363.7" width="0.95" height="3.2" fill="#fff" />
<rect x="312.16" y="364.6" width="0.95" height="0.6" fill="#000" />
<rect x="321" y="363.7" width="0.95" height="3.2" fill="#fff" />
<rect x="321" y="364.6" width="0.95" height="0.6" fill="#000" />
<rect x="322.98" y="363.7" width="0.95" height="3.2" fill="#fff" />
<rect x="322.98" y="364.6" width="0.95" height="0.6" fill="#000" />
<rect x="322.98" y="361.8" width="0.95" height="0.9" fill="#fff" />
<rect x="324.96" y="363.7" width="0.95" height="3.2" fill="#fff" />
<rect x="324.96" y="364.6" width="0.95" height="0.6" fill="#000" />
<rect x="326.94" y="363.7" width="0.95" height="3.2" fill="#fff" />
<rect x="326.94" y="364.6" width="0.95" height="0.6" fill="#000" />
<rect x="326.94" y="361.8" width="0.95" height="0.9" fill="#fff" />
<rect x="328.92" y="363.7" width="0.95" height="3.2" fill="#fff" />
<rect x="328.92" y="364.6" width="0.95" height="0.6" fill="#000" />
<rect x="330.9" y="363.7" width="0.95" height="3.2" fill="#fff" />
<rect x="330.9" y="364.6" width="0.95" height="0.6" fill="#000" />
<rect x="330.9" y="361.8" width="0.95" height="0.9" fill="#fff" />
<rect x="333.9" y="363.7" width="0.95" height="3.2" fill="#fff" />
<rect x="333.9" y="364.6" width="0.95" height="0.6" fill="#000" />
<rect x="335.88" y="363.7" width="0.95" height="3.2" fill="#fff" />
<rect x="335.88" y="364.6" width="0.95" height="0.6" fill="#000" />
<rect x="335.88" y="361.8" width="0.95" height="0.9" fill="#fff" />
<rect x="337.86" y="363.7" width="0.95" height="3.2" fill="#fff" />
<rect x="337.86" y="364.6" width="0.95" height="0.6" fill="#000" />
<rect x="339.84" y="363.7" width="0.95" height="3.2" fill="#fff" />
<rect x="339.84" y="364.6" width="0.95" height="0.6" fill="#000" />
<rect x="339.84" y="361.8" width="0.95" height="0.9" fill="#fff" />
<rect x="350.9" y="363.7" width="0.95" height="3.2" fill="#fff" />
<rect x="350.9" y="364.6" width="0.95" height="0.6" fill="#000" />
<rect x="352.88" y="363.7" width="0.95" height="3.2" fill="#fff" />
<rect x="352.88" y="364.6" width="0.95" height="0.6" fill="#000" />
<rect x="352.88" y="361.8" width="0.95" height="0.9" fill="#fff" />
<rect x="354.86" y="363.7" width="0.95" height="3.2" fill="#fff" />
<rect x="354.86" y="364.6" width="0.95" height="0.6" fill="#000" />
<rect x="356.84" y="363.7" width="0.95" height="3.2" fill="#fff" />
<rect x="356.84" y="364.6" width="0.95" height="0.6" fill="#000" />
<rect x="356.84" y="361.8" width="0.95" height="0.9" fill="#fff" />
<rect x="371" y="363.7" width="0.95" height="3.2" fill="#fff" />
<rect x="371" y="364.6" width="0.95" height="0.6" fill="#000" />
<rect x="372.98" y="363.7" width="0.95" height="3.2" fill="#fff" />
<rect x="372.98" y="364.6" width="0.95" height="0.6" fill="#000" />
<rect x="372.98" y="361.8" width="0.95" height="0.9" fill="#fff" />
<rect x="374.96" y="363.7" width="0.95" height="3.2" fill="#fff" />
<rect x="374.96" y="364.6" width="0.95" height="0.6" fill="#000" />
<rect x="376.94" y="363.7" width="0.95" height="3.2" fill="#fff" />
<rect x="376.94" y="364.6" width="0.95" height="0.6" fill="#000" />
<rect x="376.94" y="361.8" width="0.95" height="0.9" fill="#fff" />
<rect x="388.7" y="363.7" width="0.95" height="3.2" fill="#fff" />
<rect x="388.7" y="364.6" width="0.95" height="0.6" fill="#000" />
<rect x="390.68" y="363.7" width="0.95" height="3.2" fill="#fff" />
<rect x="390.68" y="364.6" width="0.95" height="0.6" fill="#000" />
<rect x="390.68" y="361.8" width="0.95" height="0.9" fill="#fff" />
<rect x="392.66" y="363.7" width="0.95" height="3.2" fill="#fff" />
<rect x="392.66" y="364.6" width="0.95" height="0.6" fill="#000" />
<rect x="394.64" y="363.7" width="0.95" height="3.2" fill="#fff" />
<rect x="394.64" y="364.6" width="0.95" height="0.6" fill="#000" />
<rect x="394.64" y="361.8" width="0.95" height="0.9" fill="#fff" />
<rect x="406" y="363.7" width="0.95" height="3.2" fill="#fff" />
<rect x="406" y="364.6" width="0.95" height="0.6" fill="#000" />
<rect x="407.98" y="363.7" width="0.95" height="3.2" fill="#fff" />
<rect x="407.98" y="364.6" width="0.95" height="0.6" fill="#000" />
<rect x="407.98" y="361.8" width="0.95" height="0.9" fill="#fff" />
<rect x="409.96" y="363.7" width="0.95" height="3.2" fill="#fff" />
<rect x="409.96" y="364.6" width="0.95" height="0.6" fill="#000" />
<rect x="418.7" y="363.7" width="0.95" height="3.2" fill="#fff" />
<rect x="418.7" y="364.6" width="0.95" height="0.6" fill="#000" />
<rect x="420.68" y="363.7" width="0.95" height="3.2" fill="#fff" />
<rect x="420.68" y="364.6" width="0.95" height="0.6" fill="#000" />
<rect x="420.68" y="361.8" width="0.95" height="0.9" fill="#fff" />
<rect x="422.66" y="363.7" width="0.95" height="3.2" fill="#fff" />
<rect x="422.66" y="364.6" width="0.95" height="0.6" fill="#000" />
<rect x="424.64" y="363.7" width="0.95" height="3.2" fill="#fff" />
<rect x="424.64" y="364.6" width="0.95" height="0.6" fill="#000" />
<rect x="424.64" y="361.8" width="0.95" height="0.9" fill="#fff" />
<rect x="426.62" y="363.7" width="0.95" height="3.2" fill="#fff" />
<rect x="426.62" y="364.6" width="0.95" height="0.6" fill="#000" />
<rect x="431.3" y="363.7" width="0.95" height="3.2" fill="#fff" />
<rect x="431.3" y="364.6" width="0.95" height="0.6" fill="#000" />
<rect x="433.28" y="363.7" width="0.95" height="3.2" fill="#fff" />
<rect x="433.28" y="364.6" width="0.95" height="0.6" fill="#000" />
<rect x="433.28" y="361.8" width="0.95" height="0.9" fill="#fff" />
<rect x="435.26" y="363.7" width="0.95" height="3.2" fill="#fff" />
<rect x="435.26" y="364.6" width="0.95" height="0.6" fill="#000" />
<rect x="437.24" y="363.7" width="0.95" height="3.2" fill="#fff" />
<rect x="437.24" y="364.6" width="0.95" height="0.6" fill="#000" />
<rect x="437.24" y="361.8" width="0.95" height="0.9" fill="#fff" />
<rect x="439.22" y="363.7" width="0.95" height="3.2" fill="#fff" />
<rect x="439.22" y="364.6" width="0.95" height="0.6" fill="#000" />
<rect x="441.2" y="363.7" width="0.95" height="3.2" fill="#fff" />
<rect x="441.2" y="364.6" width="0.95" height="0.6" fill="#000" />
<rect x="441.2" y="361.8" width="0.95" height="0.9" fill="#fff" />
<rect x="448.5" y="363.7" width="0.95" height="3.2" fill="#fff" />
<rect x="448.5" y="364.6" width="0.95" height="0.6" fill="#000" />
<rect x="450.48" y="363.7" width="0.95" height="3.2" fill="#fff" />
<rect x="450.48" y="364.6" width="0.95" height="0.6" fill="#000" />
<rect x="450.48" y="361.8" width="0.95" height="0.9" fill="#fff" />
<rect x="452.46" y="363.7" width="0.95" height="3.2" fill="#fff" />
<rect x="452.46" y="364.6" width="0.95" height="0.6" fill="#000" />
<rect x="253" y="373.4" width="222" height="26.6" fill="#000" />
<rect x="262.8" y="374.3" width="203.5" height="1.1" fill="#fff" />
<rect x="271" y="384.4" width="186" height="1.2" fill="#fff" />
<rect x="254" y="374.5" width="5.1" height="1.65" fill="#fff" />
<rect x="254" y="377.6" width="5.1" height="2.7" fill="#fff" />
<rect x="254" y="381.5" width="5.1" height="3.6" fill="#fff" />
<rect x="262.8" y="375.4" width="8.5" height="10.2" fill="#000" />
<rect x="263.2" y="376.4" width="5.8" height="3.9" fill="#fff" />
<rect x="263.2" y="380.3" width="1.1" height="1" fill="#fff" />
<rect x="265" y="381.5" width="3" height="1.1" fill="#fff" />
<rect x="263" y="382.6" width="5" height="1.8" fill="#fff" />
<rect x="270.25" y="375.4" width="1.05" height="4.7" fill="#fff" />
<rect x="269" y="382.1" width="2.9" height="3.3" fill="#fff" />
<rect x="469" y="374.5" width="5.1" height="1.65" fill="#fff" />
<rect x="469" y="377.6" width="5.1" height="2.7" fill="#fff" />
<rect x="469" y="381.5" width="5.1" height="3.6" fill="#fff" />
<rect x="455.9" y="375.4" width="10.4" height="10.2" fill="#000" />
<rect x="456" y="375.3" width="2.2" height="10.1" fill="#fff" />
<rect x="459.3" y="376.6" width="5.5" height="3.5" fill="#fff" />
<rect x="459.9" y="380.1" width="1.1" height="1.6" fill="#fff" />
<rect x="460.9" y="381.6" width="2.1" height="1.1" fill="#fff" />
<rect x="460.9" y="382.6" width="5.1" height="1.7" fill="#fff" />
<rect x="271" y="375.4" width="185.3" height="9" fill="#000" />
<rect x="276" y="376.5" width="0.95" height="2.9" fill="#fff" />
<rect x="276" y="377.4" width="0.95" height="0.6" fill="#000" />
<rect x="277.98" y="376.5" width="0.95" height="2.9" fill="#fff" />
<rect x="277.98" y="377.4" width="0.95" height="0.6" fill="#000" />
<rect x="277.98" y="374.6" width="0.95" height="0.9" fill="#fff" />
<rect x="279.96" y="376.5" width="0.95" height="2.9" fill="#fff" />
<rect x="279.96" y="377.4" width="0.95" height="0.6" fill="#000" />
<rect x="281.94" y="376.5" width="0.95" height="2.9" fill="#fff" />
<rect x="281.94" y="377.4" width="0.95" height="0.6" fill="#000" />
<rect x="281.94" y="374.6" width="0.95" height="0.9" fill="#fff" />
<rect x="283.92" y="376.5" width="0.95" height="2.9" fill="#fff" />
<rect x="283.92" y="377.4" width="0.95" height="0.6" fill="#000" />
<rect x="291.3" y="376.5" width="0.95" height="2.9" fill="#fff" />
<rect x="291.3" y="377.4" width="0.95" height="0.6" fill="#000" />
<rect x="293.28" y="376.5" width="0.95" height="2.9" fill="#fff" />
<rect x="293.28" y="377.4" width="0.95" height="0.6" fill="#000" />
<rect x="293.28" y="374.6" width="0.95" height="0.9" fill="#fff" />
<rect x="295.26" y="376.5" width="0.95" height="2.9" fill="#fff" />
<rect x="295.26" y="377.4" width="0.95" height="0.6" fill="#000" />
<rect x="297.24" y="376.5" width="0.95" height="2.9" fill="#fff" />
<rect x="297.24" y="377.4" width="0.95" height="0.6" fill="#000" />
<rect x="297.24" y="374.6" width="0.95" height="0.9" fill="#fff" />
<rect x="308.2" y="376.5" width="0.95" height="2.9" fill="#fff" />
<rect x="308.2" y="377.4" width="0.95" height="0.6" fill="#000" />
<rect x="310.18" y="376.5" width="0.95" height="2.9" fill="#fff" />
<rect x="310.18" y="377.4" width="0.95" height="0.6" fill="#000" />
<rect x="310.18" y="374.6" width="0.95" height="0.9" fill="#fff" />
<rect x="312.16" y="376.5" width="0.95" height="2.9" fill="#fff" />
<rect x="312.16" y="377.4" width="0.95" height="0.6" fill="#000" />
<rect x="321" y="376.5" width="0.95" height="2.9" fill="#fff" />
<rect x="321" y="377.4" width="0.95" height="0.6" fill="#000" />
<rect x="322.98" y="376.5" width="0.95" height="2.9" fill="#fff" />
<rect x="322.98" y="377.4" width="0.95" height="0.6" fill="#000" />
<rect x="322.98" y="374.6" width="0.95" height="0.9" fill="#fff" />
<rect x="324.96" y="376.5" width="0.95" height="2.9" fill="#fff" />
<rect x="324.96" y="377.4" width="0.95" height="0.6" fill="#000" />
<rect x="326.94" y="376.5" width="0.95" height="2.9" fill="#fff" />
<rect x="326.94" y="377.4" width="0.95" height="0.6" fill="#000" />
<rect x="326.94" y="374.6" width="0.95" height="0.9" fill="#fff" />
<rect x="328.92" y="376.5" width="0.95" height="2.9" fill="#fff" />
<rect x="328.92" y="377.4" width="0.95" height="0.6" fill="#000" />
<rect x="330.9" y="376.5" width="0.95" height="2.9" fill="#fff" />
<rect x="330.9" y="377.4" width="0.95" height="0.6" fill="#000" />
<rect x="330.9" y="374.6" width="0.95" height="0.9" fill="#fff" />
<rect x="333.9" y="376.5" width="0.95" height="2.9" fill="#fff" />
<rect x="333.9" y="377.4" width="0.95" height="0.6" fill="#000" />
<rect x="335.88" y="376.5" width="0.95" height="2.9" fill="#fff" />
<rect x="335.88" y="377.4" width="0.95" height="0.6" fill="#000" />
<rect x="335.88" y="374.6" width="0.95" height="0.9" fill="#fff" />
<rect x="337.86" y="376.5" width="0.95" height="2.9" fill="#fff" />
<rect x="337.86" y="377.4" width="0.95" height="0.6" fill="#000" />
<rect x="339.84" y="376.5" width="0.95" height="2.9" fill="#fff" />
<rect x="339.84" y="377.4" width="0.95" height="0.6" fill="#000" />
<rect x="339.84" y="374.6" width="0.95" height="0.9" fill="#fff" />
<rect x="350.9" y="376.5" width="0.95" height="2.9" fill="#fff" />
<rect x="350.9" y="377.4" width="0.95" height="0.6" fill="#000" />
<rect x="352.88" y="376.5" width="0.95" height="2.9" fill="#fff" />
<rect x="352.88" y="377.4" width="0.95" height="0.6" fill="#000" />
<rect x="352.88" y="374.6" width="0.95" height="0.9" fill="#fff" />
<rect x="354.86" y="376.5" width="0.95" height="2.9" fill="#fff" />
<rect x="354.86" y="377.4" width="0.95" height="0.6" fill="#000" />
<rect x="356.84" y="376.5" width="0.95" height="2.9" fill="#fff" />
<rect x="356.84" y="377.4" width="0.95" height="0.6" fill="#000" />
<rect x="356.84" y="374.6" width="0.95" height="0.9" fill="#fff" />
<rect x="371" y="376.5" width="0.95" height="2.9" fill="#fff" />
<rect x="371" y="377.4" width="0.95" height="0.6" fill="#000" />
<rect x="372.98" y="376.5" width="0.95" height="2.9" fill="#fff" />
<rect x="372.98" y="377.4" width="0.95" height="0.6" fill="#000" />
<rect x="372.98" y="374.6" width="0.95" height="0.9" fill="#fff" />
<rect x="374.96" y="376.5" width="0.95" height="2.9" fill="#fff" />
<rect x="374.96" y="377.4" width="0.95" height="0.6" fill="#000" />
<rect x="376.94" y="376.5" width="0.95" height="2.9" fill="#fff" />
<rect x="376.94" y="377.4" width="0.95" height="0.6" fill="#000" />
<rect x="376.94" y="374.6" width="0.95" height="0.9" fill="#fff" />
<rect x="388.7" y="376.5" width="0.95" height="2.9" fill="#fff" />
<rect x="388.7" y="377.4" width="0.95" height="0.6" fill="#000" />
<rect x="390.68" y="376.5" width="0.95" height="2.9" fill="#fff" />
<rect x="390.68" y="377.4" width="0.95" height="0.6" fill="#000" />
<rect x="390.68" y="374.6" width="0.95" height="0.9" fill="#fff" />
<rect x="392.66" y="376.5" width="0.95" height="2.9" fill="#fff" />
<rect x="392.66" y="377.4" width="0.95" height="0.6" fill="#000" />
<rect x="394.64" y="376.5" width="0.95" height="2.9" fill="#fff" />
<rect x="394.64" y="377.4" width="0.95" height="0.6" fill="#000" />
<rect x="394.64" y="374.6" width="0.95" height="0.9" fill="#fff" />
<rect x="406" y="376.5" width="0.95" height="2.9" fill="#fff" />
<rect x="406" y="377.4" width="0.95" height="0.6" fill="#000" />
<rect x="407.98" y="376.5" width="0.95" height="2.9" fill="#fff" />
<rect x="407.98" y="377.4" width="0.95" height="0.6" fill="#000" />
<rect x="407.98" y="374.6" width="0.95" height="0.9" fill="#fff" />
<rect x="409.96" y="376.5" width="0.95" height="2.9" fill="#fff" />
<rect x="409.96" y="377.4" width="0.95" height="0.6" fill="#000" />
<rect x="418.7" y="376.5" width="0.95" height="2.9" fill="#fff" />
<rect x="418.7" y="377.4" width="0.95" height="0.6" fill="#000" />
<rect x="420.68" y="376.5" width="0.95" height="2.9" fill="#fff" />
<rect x="420.68" y="377.4" width="0.95" height="0.6" fill="#000" />
<rect x="420.68" y="374.6" width="0.95" height="0.9" fill="#fff" />
<rect x="422.66" y="376.5" width="0.95" height="2.9" fill="#fff" />
<rect x="422.66" y="377.4" width="0.95" height="0.6" fill="#000" />
<rect x="424.64" y="376.5" width="0.95" height="2.9" fill="#fff" />
<rect x="424.64" y="377.4" width="0.95" height="0.6" fill="#000" />
<rect x="424.64" y="374.6" width="0.95" height="0.9" fill="#fff" />
<rect x="426.62" y="376.5" width="0.95" height="2.9" fill="#fff" />
<rect x="426.62" y="377.4" width="0.95" height="0.6" fill="#000" />
<rect x="431.3" y="376.5" width="0.95" height="2.9" fill="#fff" />
<rect x="431.3" y="377.4" width="0.95" height="0.6" fill="#000" />
<rect x="433.28" y="376.5" width="0.95" height="2.9" fill="#fff" />
<rect x="433.28" y="377.4" width="0.95" height="0.6" fill="#000" />
<rect x="433.28" y="374.6" width="0.95" height="0.9" fill="#fff" />
<rect x="435.26" y="376.5" width="0.95" height="2.9" fill="#fff" />
<rect x="435.26" y="377.4" width="0.95" height="0.6" fill="#000" />
<rect x="437.24" y="376.5" width="0.95" height="2.9" fill="#fff" />
<rect x="437.24" y="377.4" width="0.95" height="0.6" fill="#000" />
<rect x="437.24" y="374.6" width="0.95" height="0.9" fill="#fff" />
<rect x="439.22" y="376.5" width="0.95" height="2.9" fill="#fff" />
<rect x="439.22" y="377.4" width="0.95" height="0.6" fill="#000" />
<rect x="441.2" y="376.5" width="0.95" height="2.9" fill="#fff" />
<rect x="441.2" y="377.4" width="0.95" height="0.6" fill="#000" />
<rect x="441.2" y="374.6" width="0.95" height="0.9" fill="#fff" />
<rect x="448.5" y="376.5" width="0.95" height="2.9" fill="#fff" />
<rect x="448.5" y="377.4" width="0.95" height="0.6" fill="#000" />
<rect x="450.48" y="376.5" width="0.95" height="2.9" fill="#fff" />
<rect x="450.48" y="377.4" width="0.95" height="0.6" fill="#000" />
<rect x="450.48" y="374.6" width="0.95" height="0.9" fill="#fff" />
<rect x="452.46" y="376.5" width="0.95" height="2.9" fill="#fff" />
<rect x="452.46" y="377.4" width="0.95" height="0.6" fill="#000" />
<rect x="262.8" y="387.5" width="203.5" height="0.9" fill="#fff" />
<rect x="254" y="387.9" width="5.1" height="1.65" fill="#fff" />
<rect x="254" y="391" width="5.1" height="2.7" fill="#fff" />
<rect x="254" y="394.9" width="5.1" height="4" fill="#fff" />
<rect x="262.8" y="388.8" width="8.5" height="10.6" fill="#000" />
<rect x="263.2" y="389.8" width="5.8" height="3.9" fill="#fff" />
<rect x="263.2" y="393.7" width="1.1" height="1" fill="#fff" />
<rect x="265" y="394.9" width="3" height="1.1" fill="#fff" />
<rect x="263" y="396" width="5" height="2.2" fill="#fff" />
<rect x="270.25" y="388.8" width="1.05" height="4.7" fill="#fff" />
<rect x="269" y="395.5" width="2.9" height="3.7" fill="#fff" />
<rect x="469" y="387.9" width="5.1" height="1.65" fill="#fff" />
<rect x="469" y="391" width="5.1" height="2.7" fill="#fff" />
<rect x="469" y="394.9" width="5.1" height="4" fill="#fff" />
<rect x="455.9" y="388.8" width="10.4" height="10.6" fill="#000" />
<rect x="456" y="388.7" width="2.2" height="10.5" fill="#fff" />
<rect x="459.3" y="390" width="5.5" height="3.5" fill="#fff" />
<rect x="459.9" y="393.5" width="1.1" height="1.6" fill="#fff" />
<rect x="460.9" y="395" width="2.1" height="1.1" fill="#fff" />
<rect x="460.9" y="396" width="5.1" height="2.1" fill="#fff" />
<rect x="271" y="388.4" width="185.3" height="10" fill="#000" />
<rect x="271" y="398.4" width="186" height="0.9" fill="#fff" />
<rect x="271" y="388.4" width="0.9" height="10" fill="#fff" />
<rect x="253" y="385.7" width="222" height="1.1" fill="#000" />
<rect x="253" y="399.3" width="222" height="0.7" fill="#000" />
<rect x="276" y="390.4" width="0.95" height="3.8" fill="#fff" />
<rect x="277.98" y="390.4" width="0.95" height="3.8" fill="#fff" />
<rect x="279.96" y="390.4" width="0.95" height="3.8" fill="#fff" />
<rect x="281.94" y="390.4" width="0.95" height="3.8" fill="#fff" />
<rect x="283.92" y="390.4" width="0.95" height="3.8" fill="#fff" />
<rect x="291.3" y="390.4" width="0.95" height="3.8" fill="#fff" />
<rect x="293.28" y="390.4" width="0.95" height="3.8" fill="#fff" />
<rect x="295.26" y="390.4" width="0.95" height="3.8" fill="#fff" />
<rect x="297.24" y="390.4" width="0.95" height="3.8" fill="#fff" />
<rect x="308.2" y="390.4" width="0.95" height="3.8" fill="#fff" />
<rect x="310.18" y="390.4" width="0.95" height="3.8" fill="#fff" />
<rect x="312.16" y="390.4" width="0.95" height="3.8" fill="#fff" />
<rect x="321" y="390.4" width="0.95" height="3.8" fill="#fff" />
<rect x="322.98" y="390.4" width="0.95" height="3.8" fill="#fff" />
<rect x="324.96" y="390.4" width="0.95" height="3.8" fill="#fff" />
<rect x="326.94" y="390.4" width="0.95" height="3.8" fill="#fff" />
<rect x="328.92" y="390.4" width="0.95" height="3.8" fill="#fff" />
<rect x="330.9" y="390.4" width="0.95" height="3.8" fill="#fff" />
<rect x="333.9" y="390.4" width="0.95" height="3.8" fill="#fff" />
<rect x="335.88" y="390.4" width="0.95" height="3.8" fill="#fff" />
<rect x="337.86" y="390.4" width="0.95" height="3.8" fill="#fff" />
<rect x="339.84" y="390.4" width="0.95" height="3.8" fill="#fff" />
<rect x="350.9" y="390.4" width="0.95" height="3.8" fill="#fff" />
<rect x="352.88" y="390.4" width="0.95" height="3.8" fill="#fff" />
<rect x="354.86" y="390.4" width="0.95" height="3.8" fill="#fff" />
<rect x="356.84" y="390.4" width="0.95" height="3.8" fill="#fff" />
<rect x="371" y="390.4" width="0.95" height="3.8" fill="#fff" />
<rect x="372.98" y="390.4" width="0.95" height="3.8" fill="#fff" />
<rect x="374.96" y="390.4" width="0.95" height="3.8" fill="#fff" />
<rect x="376.94" y="390.4" width="0.95" height="3.8" fill="#fff" />
<rect x="388.7" y="390.4" width="0.95" height="3.8" fill="#fff" />
<rect x="390.68" y="390.4" width="0.95" height="3.8" fill="#fff" />
<rect x="392.66" y="390.4" width="0.95" height="3.8" fill="#fff" />
<rect x="394.64" y="390.4" width="0.95" height="3.8" fill="#fff" />
<rect x="406" y="390.4" width="0.95" height="3.8" fill="#fff" />
<rect x="407.98" y="390.4" width="0.95" height="3.8" fill="#fff" />
<rect x="409.96" y="390.4" width="0.95" height="3.8" fill="#fff" />
<rect x="418.7" y="390.4" width="0.95" height="3.8" fill="#fff" />
<rect x="420.68" y="390.4" width="0.95" height="3.8" fill="#fff" />
<rect x="422.66" y="390.4" width="0.95" height="3.8" fill="#fff" />
<rect x="424.64" y="390.4" width="0.95" height="3.8" fill="#fff" />
<rect x="426.62" y="390.4" width="0.95" height="3.8" fill="#fff" />
<rect x="431.3" y="390.4" width="0.95" height="3.8" fill="#fff" />
<rect x="433.28" y="390.4" width="0.95" height="3.8" fill="#fff" />
<rect x="435.26" y="390.4" width="0.95" height="3.8" fill="#fff" />
<rect x="437.24" y="390.4" width="0.95" height="3.8" fill="#fff" />
<rect x="439.22" y="390.4" width="0.95" height="3.8" fill="#fff" />
<rect x="441.2" y="390.4" width="0.95" height="3.8" fill="#fff" />
<rect x="448.5" y="390.4" width="0.95" height="3.8" fill="#fff" />
<rect x="450.48" y="390.4" width="0.95" height="3.8" fill="#fff" />
<rect x="452.46" y="390.4" width="0.95" height="3.8" fill="#fff" />
<rect x="253" y="399.9" width="222" height="0.9" fill="#000" />
<rect x="360" y="321.2" width="7.6" height="3.8" fill="#fff" />
<rect x="360" y="340.8" width="7.6" height="3.1" fill="#fff" />
<rect x="340" y="328" width="49" height="10" fill="#000" />
<rect x="271" y="331" width="69.2" height="1.2" fill="#fff" />
<rect x="271" y="334" width="69.2" height="1" fill="#fff" />
<rect x="388.5" y="331" width="68.5" height="1.2" fill="#fff" />
<rect x="388.5" y="334" width="68.5" height="1" fill="#fff" />
<rect x="342" y="327" width="44.2" height="11.6" fill="#fff" />
<rect x="360" y="348.2" width="7.6" height="3.8" fill="#fff" />
<rect x="360" y="367.8" width="7.6" height="3.1" fill="#fff" />
<rect x="340" y="355" width="49" height="10" fill="#000" />
<rect x="271" y="358" width="69.2" height="1.2" fill="#fff" />
<rect x="271" y="361" width="69.2" height="1" fill="#fff" />
<rect x="388.5" y="358" width="68.5" height="1.2" fill="#fff" />
<rect x="388.5" y="361" width="68.5" height="1" fill="#fff" />
<rect x="342" y="354" width="44.2" height="11.6" fill="#fff" />
<rect x="360" y="375.2" width="7.6" height="3.8" fill="#fff" />
<rect x="360" y="394.8" width="7.6" height="3.1" fill="#fff" />
<rect x="340" y="382" width="49" height="10" fill="#000" />
<rect x="271" y="385" width="69.2" height="1.2" fill="#fff" />
<rect x="271" y="388" width="69.2" height="1" fill="#fff" />
<rect x="388.5" y="385" width="68.5" height="1.2" fill="#fff" />
<rect x="388.5" y="388" width="68.5" height="1" fill="#fff" />
<rect x="342" y="381" width="44.2" height="11.6" fill="#fff" />
<rect x="446" y="349" width="29" height="13.5" fill="#000" />
<rect x="448" y="350" width="25" height="10.8" fill="#fff" />
<rect x="53.5" y="23" width="19.5" height="14.5" rx="2.5" fill="#000" class="aa"/>
<rect x="55.1" y="24.6" width="15.9" height="10.9" rx="1.5" fill="#fff" class="aa"/>
<polygon points="70.3,27.9 72.5,27.9 77.2,30.2 72.5,32.5 70.3,32.5" fill="#fff" stroke="none" stroke-width="1" class="aa"/>
<line x1="72" y1="26.7" x2="77.2" y2="29.8" stroke="#000" stroke-width="1.2" class="aa"/>
<line x1="72" y1="33.7" x2="77.2" y2="30.6" stroke="#000" stroke-width="1.2" class="aa"/>
<polygon points="75.7,28.3 85,29.3 85,31.1 75.7,32.1" fill="#000" stroke="none" stroke-width="1" class="aa"/>
<rect x="21" y="45" width="33" height="15" rx="3.5" fill="#000" class="aa"/>
<rect x="22.6" y="46.6" width="29.4" height="11.4" rx="2.5" fill="#fff" class="aa"/>
<line x1="53" y1="59.5" x2="59.5" y2="66.5" stroke="#000" stroke-width="2.2" class="aa" stroke-linecap="butt"/>
<rect x="2" y="67" width="34" height="14" rx="2.5" fill="#000" class="aa"/>
<rect x="3.6" y="68.6" width="30.4" height="10.4" rx="1.5" fill="#fff" class="aa"/>
<polygon points="33.3,71.7 35.5,71.7 39,74 35.5,76.3 33.3,76.3" fill="#fff" stroke="none" stroke-width="1" class="aa"/>
<line x1="35" y1="70.5" x2="39" y2="73.6" stroke="#000" stroke-width="1.2" class="aa"/>
<line x1="35" y1="77.5" x2="39" y2="74.4" stroke="#000" stroke-width="1.2" class="aa"/>
<polygon points="37.5,72.1 48,73.1 48,74.9 37.5,75.9" fill="#000" stroke="none" stroke-width="1" class="aa"/>
<rect x="175" y="25" width="27" height="14" rx="1.8" fill="#000" class="aa"/>
<rect x="176.6" y="26.6" width="23.4" height="10.4" rx="0.8" fill="#fff" class="aa"/>
<line x1="176.5" y1="38.2" x2="170" y2="45.5" stroke="#000" stroke-width="2.2" class="aa" stroke-linecap="butt"/>
<rect x="181" y="46" width="29" height="14.5" rx="2.5" fill="#000" class="aa"/>
<rect x="182.6" y="47.6" width="25.4" height="10.9" rx="1.5" fill="#fff" class="aa"/>
<polygon points="183.7,51 181.5,51 175.5,53.3 181.5,55.6 183.7,55.6" fill="#fff" stroke="none" stroke-width="1" class="aa"/>
<line x1="182" y1="49.8" x2="175.5" y2="52.9" stroke="#000" stroke-width="1.2" class="aa"/>
<line x1="182" y1="56.8" x2="175.5" y2="53.7" stroke="#000" stroke-width="1.2" class="aa"/>
<polygon points="177,51.4 170,52.4 170,54.2 177,55.2" fill="#000" stroke="none" stroke-width="1" class="aa"/>
<rect x="50" y="88" width="38.5" height="13" rx="1.2" fill="#000" class="aa"/>
<rect x="51.6" y="89.6" width="34.9" height="9.4" rx="0.5" fill="#fff" class="aa"/>
<polygon points="85.3,92.2 87.5,92.2 91.5,94.6 87.5,97 85.3,97" fill="#fff" stroke="none" stroke-width="1" class="aa"/>
<line x1="87" y1="91" x2="91.5" y2="94.2" stroke="#000" stroke-width="1.2" class="aa"/>
<line x1="87" y1="98.2" x2="91.5" y2="95" stroke="#000" stroke-width="1.2" class="aa"/>
<polygon points="90,92.7 100,93.7 100,95.5 90,96.5" fill="#000" stroke="none" stroke-width="1" class="aa"/>
<rect x="140.6" y="90.5" width="38.8" height="14" rx="1" fill="#000" class="aa"/>
<rect x="142.2" y="92.1" width="35.2" height="10.4" rx="0.5" fill="#fff" class="aa"/>
<polygon points="142.8,94.8 140.6,94.8 135.5,97.2 140.6,99.6 142.8,99.6" fill="#fff" stroke="none" stroke-width="1" class="aa"/>
<line x1="141.1" y1="93.6" x2="135.5" y2="96.8" stroke="#000" stroke-width="1.2" class="aa"/>
<line x1="141.1" y1="100.8" x2="135.5" y2="97.6" stroke="#000" stroke-width="1.2" class="aa"/>
<polygon points="137,95.3 128,96.3 128,98.1 137,99.1" fill="#000" stroke="none" stroke-width="1" class="aa"/>
<rect x="65" y="111" width="39.5" height="13.5" rx="3.2" fill="#000" class="aa"/>
<rect x="66.6" y="112.6" width="35.9" height="9.9" rx="2.2" fill="#fff" class="aa"/>
<line x1="103" y1="112" x2="110" y2="102.5" stroke="#000" stroke-width="2.4" class="aa" stroke-linecap="butt"/>
<rect x="124" y="111" width="40" height="13.5" rx="3.2" fill="#000" class="aa"/>
<rect x="125.6" y="112.6" width="36.4" height="9.9" rx="2.2" fill="#fff" class="aa"/>
<line x1="125.5" y1="112" x2="117.5" y2="102.5" stroke="#000" stroke-width="2.4" class="aa" stroke-linecap="butt"/>
<rect x="309" y="3" width="28" height="14.5" rx="3.2" fill="#000" class="aa"/>
<rect x="310.6" y="4.6" width="24.4" height="10.9" rx="2.2" fill="#fff" class="aa"/>
<polygon points="320.8,14.8 320.8,17 322.6,23.5 324.4,17 324.4,14.8" fill="#fff" stroke="none" stroke-width="1" class="aa"/>
<line x1="319.6" y1="16.5" x2="322.2" y2="23.5" stroke="#000" stroke-width="1.2" class="aa"/>
<line x1="325.6" y1="16.5" x2="323" y2="23.5" stroke="#000" stroke-width="1.2" class="aa"/>
<polygon points="320.7,22 321.7,31 323.5,31 324.5,22" fill="#000" stroke="none" stroke-width="1" class="aa"/>
<rect x="285" y="196.5" width="34" height="15" rx="4" fill="#000" class="aa"/>
<rect x="286.6" y="198.1" width="30.4" height="11.4" rx="3" fill="#fff" class="aa"/>
<polygon points="316.3,201.6 318.5,201.6 323,204 318.5,206.4 316.3,206.4" fill="#fff" stroke="none" stroke-width="1" class="aa"/>
<line x1="318" y1="200.4" x2="323" y2="203.6" stroke="#000" stroke-width="1.2" class="aa"/>
<line x1="318" y1="207.6" x2="323" y2="204.4" stroke="#000" stroke-width="1.2" class="aa"/>
<polygon points="321.5,202.1 330.5,203.1 330.5,204.9 321.5,205.9" fill="#000" stroke="none" stroke-width="1" class="aa"/>
<rect x="291.5" y="217" width="33.5" height="15" rx="2.5" fill="#000" class="aa"/>
<rect x="293.1" y="218.6" width="29.9" height="11.4" rx="1.5" fill="#fff" class="aa"/>
<line x1="323.5" y1="218" x2="332.5" y2="210" stroke="#000" stroke-width="2" class="aa" stroke-linecap="butt"/>
<rect x="606" y="267.5" width="34" height="15" rx="3.2" fill="#000" class="aa"/>
<rect x="607.6" y="269.1" width="30.4" height="11.4" rx="2.2" fill="#fff" class="aa"/>
<polygon points="622.4,279.8 622.4,282 624.2,288.5 626,282 626,279.8" fill="#fff" stroke="none" stroke-width="1" class="aa"/>
<line x1="621.2" y1="281.5" x2="623.8" y2="288.5" stroke="#000" stroke-width="1.2" class="aa"/>
<line x1="627.2" y1="281.5" x2="624.6" y2="288.5" stroke="#000" stroke-width="1.2" class="aa"/>
<polygon points="622.3,287 623.3,296 625.1,296 626.1,287" fill="#000" stroke="none" stroke-width="1" class="aa"/>
<rect x="643" y="287" width="33.5" height="14.5" rx="1.5" fill="#000" class="aa"/>
<rect x="644.6" y="288.6" width="29.9" height="10.9" rx="0.5" fill="#fff" class="aa"/>
<line x1="644.5" y1="300.5" x2="637" y2="308" stroke="#000" stroke-width="2" class="aa" stroke-linecap="butt"/>
<rect x="650" y="312.5" width="28" height="14" rx="1.5" fill="#000" class="aa"/>
<rect x="651.6" y="314.1" width="24.4" height="10.4" rx="0.5" fill="#fff" class="aa"/>
<polygon points="652.7,316.9 650.5,316.9 644.5,319.3 650.5,321.7 652.7,321.7" fill="#fff" stroke="none" stroke-width="1" class="aa"/>
<line x1="651" y1="315.7" x2="644.5" y2="318.9" stroke="#000" stroke-width="1.2" class="aa"/>
<line x1="651" y1="322.9" x2="644.5" y2="319.7" stroke="#000" stroke-width="1.2" class="aa"/>
<polygon points="646,317.4 638,318.4 638,320.2 646,321.2" fill="#000" stroke="none" stroke-width="1" class="aa"/>
<rect x="643" y="337" width="27.5" height="15" rx="3.5" fill="#000" class="aa"/>
<rect x="644.6" y="338.6" width="23.9" height="11.4" rx="2.5" fill="#fff" class="aa"/>
<line x1="638" y1="331.5" x2="645.5" y2="339.5" stroke="#000" stroke-width="2" class="aa" stroke-linecap="butt"/>
<rect x="478" y="298.5" width="26.5" height="14.5" rx="3.5" fill="#000" class="aa"/>
<rect x="479.6" y="300.1" width="22.9" height="10.9" rx="2.5" fill="#fff" class="aa"/>
<line x1="502.5" y1="311.5" x2="507.5" y2="318.5" stroke="#000" stroke-width="2" class="aa" stroke-linecap="butt"/>
<rect x="532" y="295" width="26.5" height="14" rx="3.5" fill="#000" class="aa"/>
<rect x="533.6" y="296.6" width="22.9" height="10.4" rx="2.5" fill="#fff" class="aa"/>
<line x1="533.5" y1="308" x2="526" y2="315" stroke="#000" stroke-width="2" class="aa" stroke-linecap="butt"/>
<rect x="558" y="335.5" width="27.5" height="13" rx="1" fill="#000" class="aa"/>
<rect x="559.6" y="337.1" width="23.9" height="9.4" rx="0.5" fill="#fff" class="aa"/>
<polygon points="560.7,340.4 558.5,340.4 555,342.8 558.5,345.2 560.7,345.2" fill="#fff" stroke="none" stroke-width="1" class="aa"/>
<line x1="559" y1="339.2" x2="555" y2="342.4" stroke="#000" stroke-width="1.2" class="aa"/>
<line x1="559" y1="346.4" x2="555" y2="343.2" stroke="#000" stroke-width="1.2" class="aa"/>
<polygon points="556.5,340.9 547,341.9 547,343.7 556.5,344.7" fill="#000" stroke="none" stroke-width="1" class="aa"/>
<polygon points="472.4,353 474.6,353 478.5,355.3 474.6,357.6 472.4,357.6" fill="#fff" stroke="none" stroke-width="1" class="aa"/>
<line x1="474.1" y1="351.8" x2="478.5" y2="354.9" stroke="#000" stroke-width="1.2" class="aa"/>
<line x1="474.1" y1="358.8" x2="478.5" y2="355.7" stroke="#000" stroke-width="1.2" class="aa"/>
<polygon points="477,353.4 486,354.4 486,356.2 477,357.2" fill="#000" stroke="none" stroke-width="1" class="aa"/>
<rect x="491.5" y="419" width="27" height="14" rx="3.2" fill="#000" class="aa"/>
<rect x="493.1" y="420.6" width="23.4" height="10.4" rx="2.2" fill="#fff" class="aa"/>
<line x1="517" y1="420.5" x2="523" y2="413" stroke="#000" stroke-width="2" class="aa" stroke-linecap="butt"/>
<rect x="526.5" y="419.5" width="26" height="13" rx="1.5" fill="#000" class="aa"/>
<rect x="528.1" y="421.1" width="22.4" height="9.4" rx="0.5" fill="#fff" class="aa"/>
<line x1="550.5" y1="420.5" x2="557" y2="413" stroke="#000" stroke-width="2" class="aa" stroke-linecap="butt"/>
<rect x="604.5" y="414" width="27" height="13.5" rx="1" fill="#000" class="aa"/>
<rect x="606.1" y="415.6" width="23.4" height="9.9" rx="0.5" fill="#fff" class="aa"/>
<line x1="599" y1="406.5" x2="606.5" y2="415" stroke="#000" stroke-width="2" class="aa" stroke-linecap="butt"/>
</g>
<g filter="url(#tx)">
<text x="146.6" y="45" font-size="10.5" text-anchor="middle" >14</text>
<text x="114.8" y="71.3" font-size="9.3" text-anchor="middle" textLength="24" lengthAdjust="spacing">BIOS</text>
<text x="177" y="86.3" font-size="10.6" text-anchor="middle" textLength="26" lengthAdjust="spacingAndGlyphs" >BIOS</text>
<text x="528.8" y="57.2" font-size="9.8" text-anchor="middle" textLength="26.5" lengthAdjust="spacingAndGlyphs" >34454</text>
<text x="161" y="161.6" font-size="10.3" text-anchor="middle" textLength="19" lengthAdjust="spacingAndGlyphs" >SL1</text>
<text x="504.8" y="144.95" font-size="10.3" text-anchor="middle" textLength="20" lengthAdjust="spacingAndGlyphs" >PC5</text>
<text x="505.8" y="180.95" font-size="10.3" text-anchor="middle" textLength="20" lengthAdjust="spacingAndGlyphs" >PC4</text>
<text x="505.8" y="216.6" font-size="10.3" text-anchor="middle" textLength="20" lengthAdjust="spacingAndGlyphs" >PC3</text>
<text x="505.8" y="252.3" font-size="10.3" text-anchor="middle" textLength="20" lengthAdjust="spacingAndGlyphs" >PC2</text>
<text x="505.8" y="287.95" font-size="10.3" text-anchor="middle" textLength="20" lengthAdjust="spacingAndGlyphs" >PC1</text>
<text x="364.3" y="336.7" font-size="10.6" text-anchor="middle" textLength="38.4" lengthAdjust="spacingAndGlyphs" >BANK 2</text>
<text x="364.3" y="363.7" font-size="10.6" text-anchor="middle" textLength="38.4" lengthAdjust="spacingAndGlyphs" >BANK 1</text>
<text x="364.3" y="390.7" font-size="10.6" text-anchor="middle" textLength="38.4" lengthAdjust="spacingAndGlyphs" >BANK 0</text>
<text x="460.2" y="359.4" font-size="10.3" text-anchor="middle" textLength="21" lengthAdjust="spacingAndGlyphs" >CN6</text>
<text x="62.95" y="33.65" font-size="10.3" text-anchor="middle" textLength="12.5" lengthAdjust="spacingAndGlyphs" >FP</text>
<text x="37.2" y="55.9" font-size="10.3" text-anchor="middle" textLength="26" lengthAdjust="spacingAndGlyphs" >FAN1</text>
<text x="18.7" y="77.4" font-size="10.3" text-anchor="middle" textLength="27.5" lengthAdjust="spacingAndGlyphs" >FAN2</text>
<text x="188.2" y="35.4" font-size="10.3" text-anchor="middle" textLength="19.5" lengthAdjust="spacingAndGlyphs" >EP2</text>
<text x="195.2" y="56.65" font-size="10.3" text-anchor="middle" textLength="19.5" lengthAdjust="spacingAndGlyphs" >EP1</text>
<text x="68.95" y="97.9" font-size="10.3" text-anchor="middle" textLength="32" lengthAdjust="spacingAndGlyphs" >FREQ1</text>
<text x="159.7" y="100.9" font-size="10.3" text-anchor="middle" textLength="33" lengthAdjust="spacingAndGlyphs" >FREQ4</text>
<text x="84.45" y="121.15" font-size="10.3" text-anchor="middle" textLength="32.5" lengthAdjust="spacingAndGlyphs" >FREQ2</text>
<text x="143.7" y="121.15" font-size="10.3" text-anchor="middle" textLength="32.5" lengthAdjust="spacingAndGlyphs" >FREQ3</text>
<text x="322.7" y="13.65" font-size="10.3" text-anchor="middle" textLength="20.5" lengthAdjust="spacingAndGlyphs" >CPS</text>
<text x="301.7" y="207.4" font-size="10.3" text-anchor="middle" textLength="25.3" lengthAdjust="spacingAndGlyphs" >CLK2</text>
<text x="307.95" y="227.9" font-size="10.3" text-anchor="middle" textLength="25" lengthAdjust="spacingAndGlyphs" >CLK1</text>
<text x="622.7" y="278.4" font-size="10.3" text-anchor="middle" textLength="26" lengthAdjust="spacingAndGlyphs" >USB2</text>
<text x="659.45" y="297.65" font-size="10.3" text-anchor="middle" textLength="25" lengthAdjust="spacingAndGlyphs" >USB1</text>
<text x="663.7" y="322.9" font-size="10.3" text-anchor="middle" textLength="15.5" lengthAdjust="spacingAndGlyphs" >IR1</text>
<text x="656.45" y="347.9" font-size="10.3" text-anchor="middle" textLength="20" lengthAdjust="spacingAndGlyphs" >CN7</text>
<text x="490.95" y="309.15" font-size="10.3" text-anchor="middle" textLength="20" lengthAdjust="spacingAndGlyphs" >CN5</text>
<text x="544.95" y="305.4" font-size="10.3" text-anchor="middle" textLength="20" lengthAdjust="spacingAndGlyphs" >CN4</text>
<text x="571.45" y="345.4" font-size="10.3" text-anchor="middle" textLength="20.5" lengthAdjust="spacingAndGlyphs" >CN3</text>
<text x="505.8" y="429.4" font-size="10.3" text-anchor="middle" textLength="23.5" lengthAdjust="spacingAndGlyphs" >RPW</text>
<text x="541" y="429.4" font-size="10.3" text-anchor="middle" textLength="21" lengthAdjust="spacingAndGlyphs" >CN2</text>
<text x="617.7" y="424.15" font-size="10.3" text-anchor="middle" textLength="19.5" lengthAdjust="spacingAndGlyphs" >CN1</text>
</g>
</svg>
</body></html>
